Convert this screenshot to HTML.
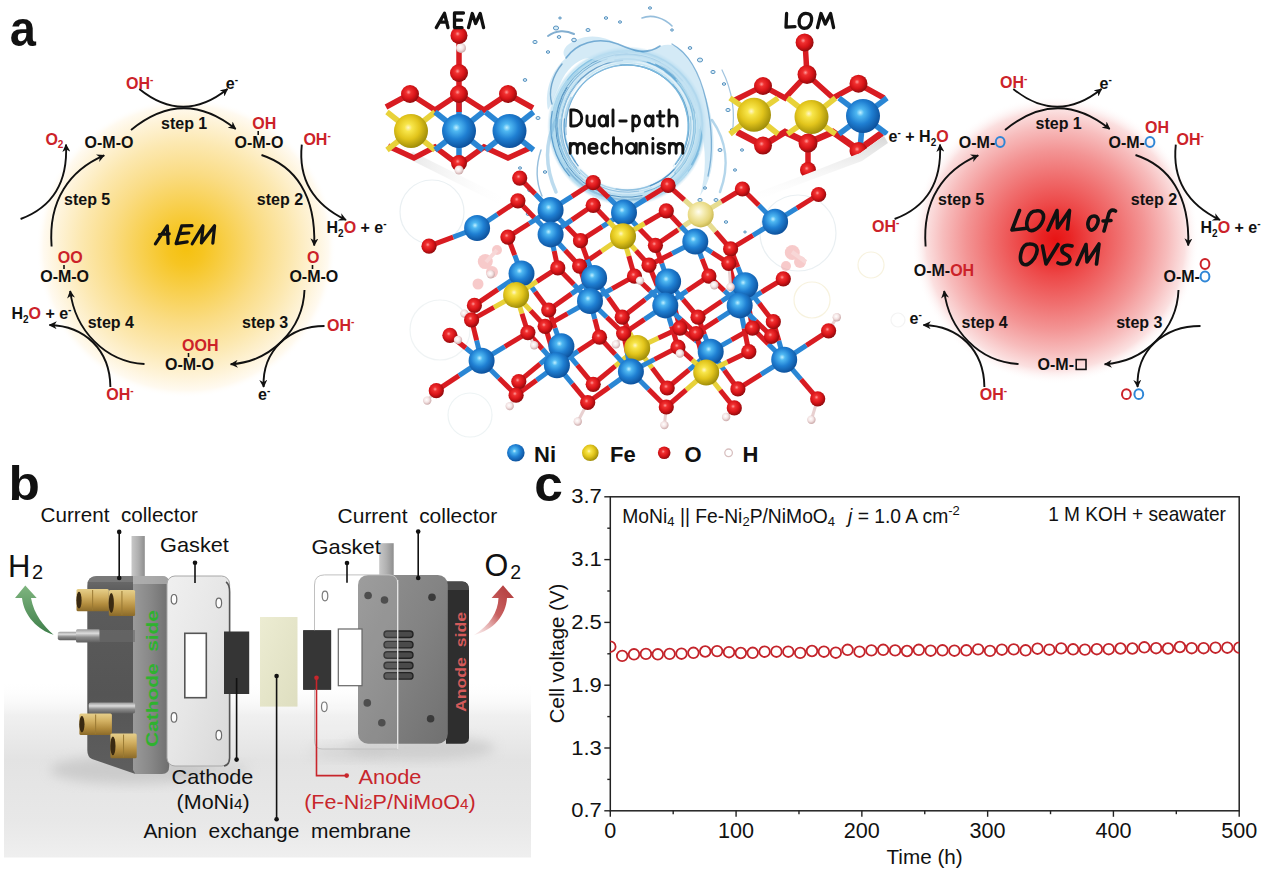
<!DOCTYPE html>
<html><head><meta charset="utf-8"><title>figure</title>
<style>
html,body{margin:0;padding:0;background:#fff;}
body{width:1268px;height:872px;overflow:hidden;}
svg{display:block;}
text{font-family:"Liberation Sans", sans-serif;white-space:pre;}
</style></head>
<body>
<svg width="1268" height="872" viewBox="0 0 1268 872">
<rect width="1268" height="872" fill="#ffffff"/>

<defs>
 <radialGradient id="gy" cx="0.5" cy="0.5" r="0.5">
  <stop offset="0" stop-color="#f5c10f"/>
  <stop offset="0.12" stop-color="#f6c522"/>
  <stop offset="0.3" stop-color="#f8d050"/>
  <stop offset="0.5" stop-color="#fadc84"/>
  <stop offset="0.7" stop-color="#fce8b0"/>
  <stop offset="0.86" stop-color="#fef3d8"/>
  <stop offset="0.95" stop-color="#fffaf0"/>
  <stop offset="1" stop-color="#ffffff" stop-opacity="0"/>
 </radialGradient>
 <radialGradient id="gr" cx="0.5" cy="0.5" r="0.5">
  <stop offset="0" stop-color="#e71414"/>
  <stop offset="0.1" stop-color="#e92424"/>
  <stop offset="0.25" stop-color="#ed4848"/>
  <stop offset="0.45" stop-color="#f07070"/>
  <stop offset="0.62" stop-color="#f39494"/>
  <stop offset="0.78" stop-color="#f7bcbc"/>
  <stop offset="0.9" stop-color="#fbe0e0"/>
  <stop offset="1" stop-color="#ffffff" stop-opacity="0"/>
 </radialGradient>
 <marker id="ah" viewBox="0 0 10 10" refX="9" refY="5" markerWidth="4.2" markerHeight="4.2" markerUnits="strokeWidth" orient="auto">
  <path d="M0,0 L10,5 L0,10 L3,5 z" fill="#111"/>
 </marker>
 <radialGradient id="ballB" cx="0.42" cy="0.40" r="0.62">
  <stop offset="0" stop-color="#bff0ff"/>
  <stop offset="0.18" stop-color="#4fb8f2"/>
  <stop offset="0.55" stop-color="#1f7fd2"/>
  <stop offset="1" stop-color="#0c4f9a"/>
 </radialGradient>
 <radialGradient id="ballY" cx="0.42" cy="0.40" r="0.62">
  <stop offset="0" stop-color="#fff6c8"/>
  <stop offset="0.18" stop-color="#f8e64a"/>
  <stop offset="0.55" stop-color="#e2c51c"/>
  <stop offset="1" stop-color="#9c8a08"/>
 </radialGradient>
 <radialGradient id="ballR" cx="0.42" cy="0.40" r="0.62">
  <stop offset="0" stop-color="#ff9a9a"/>
  <stop offset="0.22" stop-color="#f03030"/>
  <stop offset="0.6" stop-color="#d81418"/>
  <stop offset="1" stop-color="#8c0a0c"/>
 </radialGradient>
 <radialGradient id="ballH" cx="0.42" cy="0.40" r="0.62">
  <stop offset="0" stop-color="#ffffff"/>
  <stop offset="0.5" stop-color="#f4e4e4"/>
  <stop offset="1" stop-color="#c9a6a6"/>
 </radialGradient>
 <radialGradient id="bub" cx="0.5" cy="0.5" r="0.5">
  <stop offset="0.75" stop-color="#ffffff" stop-opacity="0"/>
  <stop offset="0.93" stop-color="#e6eef2" stop-opacity="0.7"/>
  <stop offset="1" stop-color="#d8e4ea" stop-opacity="0.2"/>
 </radialGradient>
 <linearGradient id="bgb" x1="0" y1="0" x2="0" y2="1">
  <stop offset="0" stop-color="#ffffff"/>
  <stop offset="0.35" stop-color="#f7f7f7"/>
  <stop offset="0.62" stop-color="#e4e4e4"/>
  <stop offset="0.85" stop-color="#ebebeb"/>
  <stop offset="1" stop-color="#f4f4f4"/>
 </linearGradient>
</defs>

<text transform="translate(9.8,45.6) scale(0.94,1)" font-size="50" font-weight="bold" fill="#111">a</text>
<text transform="translate(8.6,500.2) scale(1.07,1)" font-size="48" font-weight="bold" fill="#111">b</text>
<text transform="translate(534.3,501.2) scale(1.04,1)" font-size="49.5" font-weight="bold" fill="#111">c</text>
<circle cx="186" cy="248" r="150" fill="url(#gy)"/>
<circle cx="1055.5" cy="240" r="144" fill="url(#gr)"/>
<g transform="translate(0,0)" fill="none" stroke="#111" stroke-width="1.9" marker-end="url(#ah)">
<path d="M131,130 Q183.5,87 235.7,129.1"/>
<path d="M139.3,89 Q183,124.5 227.5,89"/>
<path d="M261.5,155 C295,166 316,195 314.2,245.5"/>
<path d="M301.8,144.6 C298,180 315,205 346,220"/>
<path d="M304.5,290 C303,330 270,362 230.6,364.2"/>
<path d="M51.6,246.5 C48,200 70,170 104.2,155.4"/>
<path d="M144.5,364 C105,362 75,330 70.2,291"/>
<path d="M110.4,387 C110,350 85,326 49.5,325"/>
<path d="M20.6,219 C50,208 68,185 66,144.6"/>
<path d="M324.5,326 C290,326 262,350 263.6,387"/>
</g>
<g transform="translate(874,0)" fill="none" stroke="#111" stroke-width="1.9" marker-end="url(#ah)">
<path d="M131,130 Q183.5,87 235.7,129.1"/>
<path d="M139.3,89 Q183,124.5 227.5,89"/>
<path d="M261.5,155 C295,166 316,195 314.2,245.5"/>
<path d="M301.8,144.6 C298,180 315,205 346,220"/>
<path d="M304.5,290 C303,330 270,362 230.6,364.2"/>
<path d="M51.6,246.5 C48,200 70,170 104.2,155.4"/>
<path d="M144.5,364 C105,362 75,330 70.2,291"/>
<path d="M110.4,387 C110,350 85,326 49.5,325"/>
<path d="M20.6,219 C50,208 68,185 66,144.6"/>
<path d="M326.5,326 C290,326 262,350 263.6,387"/>
</g>
<g font-family='"Liberation Sans", sans-serif'>
<text x="126" y="88.5" font-size="16" font-weight="bold" fill="#cc2229" text-anchor="start" >OH<tspan dy="-6" font-size="10">-</tspan></text>
<text x="225.8" y="89" font-size="16" font-weight="bold" fill="#111" text-anchor="start" >e<tspan dy="-6" font-size="10">-</tspan></text>
<text x="161" y="128.5" font-size="16" font-weight="bold" fill="#111" text-anchor="start" >step 1</text>
<text x="84.6" y="147.7" font-size="16" font-weight="bold" fill="#111" text-anchor="start" >O-M-O</text>
<text x="234.5" y="147.7" font-size="16" font-weight="bold" fill="#111" text-anchor="start" >O-M-O</text>
<text x="252.2" y="129" font-size="16" font-weight="bold" fill="#cc2229" text-anchor="start" >OH</text>
<line x1="258.2" y1="131" x2="258.2" y2="135" stroke="#111" stroke-width="1.6"/>
<text x="303.4" y="144.6" font-size="16" font-weight="bold" fill="#cc2229" text-anchor="start" >OH<tspan dy="-6" font-size="10">-</tspan></text>
<text x="45.4" y="144.6" font-size="16" font-weight="bold" fill="#cc2229">O<tspan dy="3" font-size="10">2</tspan></text>
<text x="64" y="205" font-size="16" font-weight="bold" fill="#111" text-anchor="start" >step 5</text>
<text x="256.8" y="205" font-size="16" font-weight="bold" fill="#111" text-anchor="start" >step 2</text>
<text x="326.5" y="233.4" font-size="16" font-weight="bold" fill="#111">H<tspan dy="4" font-size="10">2</tspan><tspan dy="-4" fill="#cc2229">O</tspan> + e<tspan dy="-6" font-size="10">-</tspan></text>
<text x="57.8" y="263" font-size="16" font-weight="bold" fill="#cc2229" text-anchor="start" >OO</text>
<line x1="64" y1="265" x2="64" y2="269" stroke="#111" stroke-width="1.6"/>
<text x="40.2" y="281.6" font-size="16" font-weight="bold" fill="#111" text-anchor="start" >O-M-O</text>
<text x="307" y="263" font-size="16" font-weight="bold" fill="#cc2229" text-anchor="start" >O</text>
<line x1="312.5" y1="265" x2="312.5" y2="269" stroke="#111" stroke-width="1.6"/>
<text x="289.4" y="281.6" font-size="16" font-weight="bold" fill="#111" text-anchor="start" >O-M-O</text>
<text x="11.4" y="318.7" font-size="16" font-weight="bold" fill="#111">H<tspan dy="4" font-size="10">2</tspan><tspan dy="-4" fill="#cc2229">O</tspan> + e<tspan dy="-6" font-size="10">-</tspan></text>
<text x="87.7" y="327.5" font-size="16" font-weight="bold" fill="#111" text-anchor="start" >step 4</text>
<text x="242" y="327.5" font-size="16" font-weight="bold" fill="#111" text-anchor="start" >step 3</text>
<text x="327" y="330.5" font-size="16" font-weight="bold" fill="#cc2229" text-anchor="start" >OH<tspan dy="-6" font-size="10">-</tspan></text>
<text x="182" y="350.7" font-size="16" font-weight="bold" fill="#cc2229" text-anchor="start" >OOH</text>
<line x1="188.5" y1="353" x2="188.5" y2="357" stroke="#111" stroke-width="1.6"/>
<text x="165" y="370.3" font-size="16" font-weight="bold" fill="#111" text-anchor="start" >O-M-O</text>
<text x="106.3" y="400.3" font-size="16" font-weight="bold" fill="#cc2229" text-anchor="start" >OH<tspan dy="-6" font-size="10">-</tspan></text>
<text x="258" y="400.3" font-size="16" font-weight="bold" fill="#111" text-anchor="start" >e<tspan dy="-6" font-size="10">-</tspan></text>
<text x="1000" y="88" font-size="16" font-weight="bold" fill="#cc2229" text-anchor="start" >OH<tspan dy="-6" font-size="10">-</tspan></text>
<text x="1099.5" y="88.5" font-size="16" font-weight="bold" fill="#111" text-anchor="start" >e<tspan dy="-6" font-size="10">-</tspan></text>
<text x="1035.5" y="128.5" font-size="16" font-weight="bold" fill="#111" text-anchor="start" >step 1</text>
<text x="888.6" y="141.5" font-size="16" font-weight="bold" fill="#111">e<tspan dy="-6" font-size="10">-</tspan><tspan dy="6"> + H</tspan><tspan dy="4" font-size="10">2</tspan><tspan dy="-4" fill="#cc2229">O</tspan></text>
<text x="958.8" y="147.7" font-size="16" font-weight="bold" fill="#111" text-anchor="start" >O-M-</text>
<ellipse cx="1000.2" cy="142" rx="4.4" ry="4.9" fill="none" stroke="#2f86d6" stroke-width="2"/>
<text x="1108.5" y="147.7" font-size="16" font-weight="bold" fill="#111" text-anchor="start" >O-M-</text>
<ellipse cx="1150" cy="142" rx="4.4" ry="4.9" fill="none" stroke="#2f86d6" stroke-width="2"/>
<text x="1145" y="133" font-size="16" font-weight="bold" fill="#cc2229" text-anchor="start" >OH</text>
<text x="1176.5" y="144.6" font-size="16" font-weight="bold" fill="#cc2229" text-anchor="start" >OH<tspan dy="-6" font-size="10">-</tspan></text>
<text x="938" y="205" font-size="16" font-weight="bold" fill="#111" text-anchor="start" >step 5</text>
<text x="1130.8" y="205" font-size="16" font-weight="bold" fill="#111" text-anchor="start" >step 2</text>
<text x="872" y="232.3" font-size="16" font-weight="bold" fill="#cc2229" text-anchor="start" >OH<tspan dy="-6" font-size="10">-</tspan></text>
<text x="1200.5" y="233.4" font-size="16" font-weight="bold" fill="#111">H<tspan dy="4" font-size="10">2</tspan><tspan dy="-4" fill="#cc2229">O</tspan> + e<tspan dy="-6" font-size="10">-</tspan></text>
<ellipse cx="1205" cy="264" rx="4.4" ry="4.9" fill="none" stroke="#cc2229" stroke-width="2"/>
<text x="1163.5" y="281.6" font-size="16" font-weight="bold" fill="#111" text-anchor="start" >O-M-</text>
<ellipse cx="1205" cy="276.5" rx="4.4" ry="4.9" fill="none" stroke="#2f86d6" stroke-width="2"/>
<text x="913.7" y="276" font-size="16" font-weight="bold" fill="#111">O-M-<tspan fill="#cc2229">OH</tspan></text>
<text x="909.5" y="324" font-size="16" font-weight="bold" fill="#111" text-anchor="start" >e<tspan dy="-6" font-size="10">-</tspan></text>
<text x="961.5" y="327.5" font-size="16" font-weight="bold" fill="#111" text-anchor="start" >step 4</text>
<text x="1116.2" y="327.5" font-size="16" font-weight="bold" fill="#111" text-anchor="start" >step 3</text>
<text x="1037.6" y="370.3" font-size="16" font-weight="bold" fill="#111">O-M-</text>
<rect x="1076.2" y="359.6" width="9.8" height="9.8" fill="none" stroke="#111" stroke-width="1.6"/>
<text x="979.8" y="400.3" font-size="16" font-weight="bold" fill="#cc2229" text-anchor="start" >OH<tspan dy="-6" font-size="10">-</tspan></text>
<ellipse cx="1126.4" cy="394.2" rx="4.4" ry="4.9" fill="none" stroke="#cc2229" stroke-width="2"/><ellipse cx="1138.8" cy="394.2" rx="4.4" ry="4.9" fill="none" stroke="#2f86d6" stroke-width="2"/>
</g>
<path d="M155.4,243.8 L167.3,225.9 L168.1,243.5 M159.3,234.5 L169.2,233.8 M181.7,225.9 L176.1,243.6 M181.7,225.9 L192.0,225.7 M179.3,233.7 L188.8,233.0 M176.1,243.6 L187.2,241.8 M192.2,243.8 L203,225.8 L201.4,243 L214.6,225.8 L212.8,243.2" fill="none" stroke="#111" stroke-width="3.2" stroke-linecap="round" stroke-linejoin="round"/>
<path d="M1019.5,210.5 L1012,230 L1025,228.5 M1036,211 C1028,211 1025,224 1028,229 C1031,233 1040,229 1043,220 C1045,213 1041,210 1036,211 Z M1048,230 L1057,210.5 L1057.5,228 L1069.5,210.5 L1067.5,229 M1094,216 C1088,216 1086,226 1090,229.5 C1094,232 1099,224 1098,219 C1097,216 1095,216 1094,216 Z M1104,231 L1109,213 C1111,209 1114,210 1115.5,211 M1103,221 L1111,220.5" fill="none" stroke="#111" stroke-width="3.6" stroke-linecap="round" stroke-linejoin="round"/>
<path d="M1029,244 C1021,244 1018,260 1023,264 C1028,267 1036,259 1037,251 C1038,246 1034,243.5 1029,244 Z M1042.5,246 L1046,264 L1058,244.5 M1072,246 C1066,244 1061,246 1062,251 C1063,255 1070,254 1070,259 C1070,264 1062,265 1058,263 M1077,264.5 L1086,244.5 L1087,262 L1099,244 L1096.5,264" fill="none" stroke="#111" stroke-width="3.6" stroke-linecap="round" stroke-linejoin="round"/>
<g font-family='"Liberation Sans", sans-serif' fill="#111">
<rect x="610.3" y="496.8" width="628.9000000000001" height="313.99999999999994" fill="none" stroke="#222" stroke-width="1.5"/>
<line x1="604.3" y1="810.8" x2="610.3" y2="810.8" stroke="#222" stroke-width="1.4"/>
<text x="601.8" y="817.4" font-size="19.6" text-anchor="end" textLength="30.6" lengthAdjust="spacingAndGlyphs">0.7</text>
<line x1="604.3" y1="748.0" x2="610.3" y2="748.0" stroke="#222" stroke-width="1.4"/>
<text x="601.8" y="754.6" font-size="19.6" text-anchor="end" textLength="30.6" lengthAdjust="spacingAndGlyphs">1.3</text>
<line x1="604.3" y1="685.2" x2="610.3" y2="685.2" stroke="#222" stroke-width="1.4"/>
<text x="601.8" y="691.8000000000001" font-size="19.6" text-anchor="end" textLength="30.6" lengthAdjust="spacingAndGlyphs">1.9</text>
<line x1="604.3" y1="622.4" x2="610.3" y2="622.4" stroke="#222" stroke-width="1.4"/>
<text x="601.8" y="629.0" font-size="19.6" text-anchor="end" textLength="30.6" lengthAdjust="spacingAndGlyphs">2.5</text>
<line x1="604.3" y1="559.5999999999999" x2="610.3" y2="559.5999999999999" stroke="#222" stroke-width="1.4"/>
<text x="601.8" y="566.1999999999999" font-size="19.6" text-anchor="end" textLength="30.6" lengthAdjust="spacingAndGlyphs">3.1</text>
<line x1="604.3" y1="496.8" x2="610.3" y2="496.8" stroke="#222" stroke-width="1.4"/>
<text x="601.8" y="503.40000000000003" font-size="19.6" text-anchor="end" textLength="30.6" lengthAdjust="spacingAndGlyphs">3.7</text>
<line x1="607.3" y1="779.4" x2="610.3" y2="779.4" stroke="#222" stroke-width="1.4"/>
<line x1="607.3" y1="716.5999999999999" x2="610.3" y2="716.5999999999999" stroke="#222" stroke-width="1.4"/>
<line x1="607.3" y1="653.8" x2="610.3" y2="653.8" stroke="#222" stroke-width="1.4"/>
<line x1="607.3" y1="591.0" x2="610.3" y2="591.0" stroke="#222" stroke-width="1.4"/>
<line x1="607.3" y1="528.2" x2="610.3" y2="528.2" stroke="#222" stroke-width="1.4"/>
<line x1="610.3" y1="810.8" x2="610.3" y2="816.8" stroke="#222" stroke-width="1.4"/>
<text x="610.3" y="838.0" font-size="21.5" text-anchor="middle" textLength="12" lengthAdjust="spacingAndGlyphs">0</text>
<line x1="736.0799999999999" y1="810.8" x2="736.0799999999999" y2="816.8" stroke="#222" stroke-width="1.4"/>
<text x="736.0799999999999" y="838.0" font-size="21.5" text-anchor="middle" textLength="36" lengthAdjust="spacingAndGlyphs">100</text>
<line x1="861.86" y1="810.8" x2="861.86" y2="816.8" stroke="#222" stroke-width="1.4"/>
<text x="861.86" y="838.0" font-size="21.5" text-anchor="middle" textLength="36" lengthAdjust="spacingAndGlyphs">200</text>
<line x1="987.64" y1="810.8" x2="987.64" y2="816.8" stroke="#222" stroke-width="1.4"/>
<text x="987.64" y="838.0" font-size="21.5" text-anchor="middle" textLength="36" lengthAdjust="spacingAndGlyphs">300</text>
<line x1="1113.42" y1="810.8" x2="1113.42" y2="816.8" stroke="#222" stroke-width="1.4"/>
<text x="1113.42" y="838.0" font-size="21.5" text-anchor="middle" textLength="36" lengthAdjust="spacingAndGlyphs">400</text>
<line x1="1239.2" y1="810.8" x2="1239.2" y2="816.8" stroke="#222" stroke-width="1.4"/>
<text x="1239.2" y="838.0" font-size="21.5" text-anchor="middle" textLength="36" lengthAdjust="spacingAndGlyphs">500</text>
<line x1="673.1899999999999" y1="810.8" x2="673.1899999999999" y2="814.1999999999999" stroke="#222" stroke-width="1.4"/>
<line x1="798.97" y1="810.8" x2="798.97" y2="814.1999999999999" stroke="#222" stroke-width="1.4"/>
<line x1="924.75" y1="810.8" x2="924.75" y2="814.1999999999999" stroke="#222" stroke-width="1.4"/>
<line x1="1050.53" y1="810.8" x2="1050.53" y2="814.1999999999999" stroke="#222" stroke-width="1.4"/>
<line x1="1176.31" y1="810.8" x2="1176.31" y2="814.1999999999999" stroke="#222" stroke-width="1.4"/>
<text x="886.5" y="863.5" font-size="20.6" textLength="76.2" lengthAdjust="spacingAndGlyphs">Time (h)</text>
<text transform="translate(564.2,723.2) rotate(-90)" font-size="20.4" textLength="139.5" lengthAdjust="spacingAndGlyphs">Cell voltage (V)</text>
<text x="1048.2" y="520.8" font-size="19.8" textLength="177.8" lengthAdjust="spacingAndGlyphs">1 M KOH + seawater</text>
<text x="622.3" y="523.4" font-size="19.3">MoNi<tspan dy="3" font-size="13">4</tspan><tspan dy="-3"> || Fe-Ni</tspan><tspan dy="3" font-size="13">2</tspan><tspan dy="-3">P/NiMoO</tspan><tspan dy="3" font-size="13">4</tspan><tspan dy="-3" x="848" font-style="italic">j</tspan><tspan> = 1.0 A cm</tspan><tspan dy="-8" font-size="13">-2</tspan></text>
</g>
<clipPath id="cc"><rect x="610.3" y="496.8" width="628.9000000000001" height="313.99999999999994"/></clipPath>
<g clip-path="url(#cc)" fill="none" stroke="#c4242b" stroke-width="1.8">
<circle cx="610.3" cy="646.7" r="5.3"/>
<circle cx="622.2" cy="655.9" r="5.3"/>
<circle cx="634.0" cy="654.3" r="5.3"/>
<circle cx="645.9" cy="653.9" r="5.3"/>
<circle cx="657.8" cy="654.3" r="5.3"/>
<circle cx="669.6" cy="653.9" r="5.3"/>
<circle cx="681.5" cy="653.7" r="5.3"/>
<circle cx="693.4" cy="652.8" r="5.3"/>
<circle cx="705.2" cy="651.5" r="5.3"/>
<circle cx="717.1" cy="651.1" r="5.3"/>
<circle cx="729.0" cy="652.2" r="5.3"/>
<circle cx="740.8" cy="653.0" r="5.3"/>
<circle cx="752.7" cy="652.8" r="5.3"/>
<circle cx="764.6" cy="651.7" r="5.3"/>
<circle cx="776.4" cy="651.7" r="5.3"/>
<circle cx="788.3" cy="651.7" r="5.3"/>
<circle cx="800.2" cy="652.9" r="5.3"/>
<circle cx="812.0" cy="651.0" r="5.3"/>
<circle cx="823.9" cy="651.7" r="5.3"/>
<circle cx="835.8" cy="652.7" r="5.3"/>
<circle cx="847.6" cy="649.8" r="5.3"/>
<circle cx="859.5" cy="651.7" r="5.3"/>
<circle cx="871.4" cy="650.4" r="5.3"/>
<circle cx="883.2" cy="649.8" r="5.3"/>
<circle cx="895.1" cy="650.4" r="5.3"/>
<circle cx="907.0" cy="651.0" r="5.3"/>
<circle cx="918.8" cy="649.8" r="5.3"/>
<circle cx="930.7" cy="650.7" r="5.3"/>
<circle cx="942.5" cy="650.3" r="5.3"/>
<circle cx="954.4" cy="650.7" r="5.3"/>
<circle cx="966.3" cy="650.3" r="5.3"/>
<circle cx="978.1" cy="649.4" r="5.3"/>
<circle cx="990.0" cy="650.9" r="5.3"/>
<circle cx="1001.9" cy="649.7" r="5.3"/>
<circle cx="1013.7" cy="649.4" r="5.3"/>
<circle cx="1025.6" cy="650.3" r="5.3"/>
<circle cx="1037.5" cy="648.7" r="5.3"/>
<circle cx="1049.3" cy="649.7" r="5.3"/>
<circle cx="1061.2" cy="648.4" r="5.3"/>
<circle cx="1073.1" cy="649.3" r="5.3"/>
<circle cx="1084.9" cy="649.6" r="5.3"/>
<circle cx="1096.8" cy="649.2" r="5.3"/>
<circle cx="1108.7" cy="649.2" r="5.3"/>
<circle cx="1120.5" cy="648.5" r="5.3"/>
<circle cx="1132.4" cy="648.5" r="5.3"/>
<circle cx="1144.3" cy="647.3" r="5.3"/>
<circle cx="1156.1" cy="648.2" r="5.3"/>
<circle cx="1168.0" cy="648.5" r="5.3"/>
<circle cx="1179.9" cy="647.0" r="5.3"/>
<circle cx="1191.7" cy="648.2" r="5.3"/>
<circle cx="1203.6" cy="648.2" r="5.3"/>
<circle cx="1215.5" cy="647.7" r="5.3"/>
<circle cx="1227.3" cy="647.7" r="5.3"/>
<circle cx="1239.2" cy="647.7" r="5.3"/>
</g>
<defs><radialGradient id="ringg" cx="0.5" cy="0.5" r="0.5"><stop offset="0.76" stop-color="#ffffff" stop-opacity="0"/><stop offset="0.80" stop-color="#e2f1f9" stop-opacity="0.9"/><stop offset="0.88" stop-color="#bfe0f1" stop-opacity="0.95"/><stop offset="0.95" stop-color="#9dcfea" stop-opacity="0.9"/><stop offset="1" stop-color="#cfe7f4" stop-opacity="0"/></radialGradient></defs>
<circle cx="627" cy="126" r="80" fill="url(#ringg)"/>
<g fill="none" stroke-linecap="round">
<path d="M655.5,64.0 A68.2,68.2 0 0 1 644.4,192.0" stroke="#5ea6d4" stroke-width="1.1" opacity="0.78"/>
<path d="M688.8,142.9 A64.0,64.0 0 0 1 616.1,189.1" stroke="#3f88c0" stroke-width="1.5" opacity="0.40"/>
<path d="M576.6,168.4 A65.9,65.9 0 0 1 622.6,60.3" stroke="#2f78b0" stroke-width="1.3" opacity="0.65"/>
<path d="M614.7,59.8 A67.3,67.3 0 0 1 691.4,145.5" stroke="#2f78b0" stroke-width="0.7" opacity="0.36"/>
<path d="M582.7,179.5 A69.5,69.5 0 0 1 557.6,127.9" stroke="#7fbde0" stroke-width="1.3" opacity="0.74"/>
<path d="M665.0,71.8 A66.2,66.2 0 0 1 692.9,119.6" stroke="#7fbde0" stroke-width="1.3" opacity="0.60"/>
<path d="M615.7,55.3 A71.6,71.6 0 0 1 682.4,80.6" stroke="#3f88c0" stroke-width="1.8" opacity="0.77"/>
<path d="M567.1,85.5 A72.3,72.3 0 0 1 624.2,53.7" stroke="#b9dff0" stroke-width="0.5" opacity="0.63"/>
<path d="M575.3,161.5 A62.7,62.7 0 0 1 571.1,97.6" stroke="#9fd0ea" stroke-width="1.7" opacity="0.77"/>
<path d="M566.0,126.8 A61.0,61.0 0 0 1 672.3,85.2" stroke="#5ea6d4" stroke-width="1.0" opacity="0.70"/>
<path d="M657.6,65.6 A67.7,67.7 0 0 1 692.9,110.4" stroke="#2f78b0" stroke-width="0.9" opacity="0.39"/>
<path d="M651.7,187.6 A66.3,66.3 0 0 1 561.3,116.9" stroke="#9fd0ea" stroke-width="0.7" opacity="0.70"/>
<path d="M620.0,65.2 A61.2,61.2 0 0 1 687.1,114.6" stroke="#2f78b0" stroke-width="1.2" opacity="0.57"/>
<path d="M690.4,116.6 A64.1,64.1 0 0 1 680.8,160.8" stroke="#2f78b0" stroke-width="1.0" opacity="0.55"/>
<path d="M600.5,198.1 A76.8,76.8 0 0 1 592.4,57.4" stroke="#cde9f5" stroke-width="1.3" opacity="0.85"/>
<path d="M566.3,134.7 A61.3,61.3 0 0 1 674.8,87.7" stroke="#3f88c0" stroke-width="1.3" opacity="0.40"/>
<path d="M550.2,125.5 A76.8,76.8 0 0 1 585.9,61.1" stroke="#cde9f5" stroke-width="1.3" opacity="0.77"/>
<path d="M579.9,173.9 A67.2,67.2 0 0 1 560.1,119.4" stroke="#2f78b0" stroke-width="0.8" opacity="0.65"/>
<path d="M614.9,60.2 A66.9,66.9 0 0 1 674.8,172.9" stroke="#5ea6d4" stroke-width="1.6" opacity="0.42"/>
<path d="M676.1,80.2 A67.2,67.2 0 0 1 689.8,149.9" stroke="#7fbde0" stroke-width="1.6" opacity="0.47"/>
<path d="M690.7,119.3 A64.0,64.0 0 0 1 580.5,170.0" stroke="#7fbde0" stroke-width="1.4" opacity="0.54"/>
<path d="M577.6,173.8 A68.7,68.7 0 0 1 560.1,141.7" stroke="#9fd0ea" stroke-width="0.6" opacity="0.83"/>
<path d="M688.8,106.5 A64.8,64.8 0 0 1 676.9,167.3" stroke="#cde9f5" stroke-width="1.7" opacity="0.60"/>
<path d="M665.1,183.9 A69.3,69.3 0 0 1 563.6,98.0" stroke="#7fbde0" stroke-width="0.8" opacity="0.63"/>
<path d="M677.6,71.2 A74.6,74.6 0 0 1 699.8,142.5" stroke="#7fbde0" stroke-width="1.5" opacity="0.38"/>
<path d="M560.9,111.7 A67.6,67.6 0 0 1 577.6,79.9" stroke="#b9dff0" stroke-width="1.0" opacity="0.64"/>
<path d="M586.0,78.0 A63.1,63.1 0 0 1 689.8,132.5" stroke="#b9dff0" stroke-width="1.4" opacity="0.70"/>
<path d="M562.6,154.3 A70.4,70.4 0 0 1 557.0,119.0" stroke="#9fd0ea" stroke-width="1.1" opacity="0.53"/>
<path d="M592.9,182.5 A66.0,66.0 0 0 1 577.1,82.8" stroke="#9fd0ea" stroke-width="1.1" opacity="0.72"/>
<path d="M638.7,191.1 A66.1,66.1 0 0 1 599.9,186.3" stroke="#3f88c0" stroke-width="1.0" opacity="0.37"/>
<path d="M702.5,117.1 A76.0,76.0 0 0 1 689.7,169.0" stroke="#b9dff0" stroke-width="1.0" opacity="0.69"/>
<path d="M686.9,171.9 A75.4,75.4 0 0 1 595.6,194.6" stroke="#cde9f5" stroke-width="0.5" opacity="0.60"/>
<path d="M679.2,94.0 A61.2,61.2 0 0 1 673.3,166.1" stroke="#9fd0ea" stroke-width="1.3" opacity="0.39"/>
<path d="M642.1,195.6 A71.2,71.2 0 0 1 567.1,87.4" stroke="#2f78b0" stroke-width="0.9" opacity="0.82"/>
<path d="M615.8,54.8 A72.1,72.1 0 0 1 696.3,106.0" stroke="#3f88c0" stroke-width="0.6" opacity="0.73"/>
<path d="M665.2,77.8 A61.5,61.5 0 0 1 678.2,160.0" stroke="#7fbde0" stroke-width="1.7" opacity="0.41"/>
<path d="M689.2,86.9 A73.5,73.5 0 0 1 670.6,185.2" stroke="#9fd0ea" stroke-width="1.0" opacity="0.42"/>
<path d="M640.6,56.5 A70.8,70.8 0 0 1 681.0,171.8" stroke="#b9dff0" stroke-width="1.4" opacity="0.57"/>
<path d="M567.6,79.8 A75.3,75.3 0 0 1 689.5,84.1" stroke="#7fbde0" stroke-width="1.3" opacity="0.75"/>
<path d="M554.1,131.0 A73.1,73.1 0 0 1 578.0,71.8" stroke="#7fbde0" stroke-width="1.3" opacity="0.51"/>
<path d="M631.2,63.0 A63.2,63.2 0 0 1 672.9,169.5" stroke="#cde9f5" stroke-width="0.6" opacity="0.38"/>
<path d="M698.5,153.7 A76.7,76.7 0 0 1 665.0,192.6" stroke="#5ea6d4" stroke-width="0.9" opacity="0.46"/>
<path d="M676.0,79.4 A67.6,67.6 0 0 1 676.3,172.3" stroke="#b9dff0" stroke-width="1.4" opacity="0.77"/>
<path d="M569.4,84.6 A71.0,71.0 0 0 1 695.3,106.8" stroke="#b9dff0" stroke-width="1.6" opacity="0.37"/>
<path d="M661.3,62.3 A72.3,72.3 0 0 1 699.3,128.4" stroke="#cde9f5" stroke-width="1.2" opacity="0.67"/>
<path d="M560.1,134.6 A67.5,67.5 0 0 1 654.3,64.3" stroke="#b9dff0" stroke-width="0.8" opacity="0.42"/>
<path d="M672.6,84.4 A61.8,61.8 0 0 1 675.4,164.4" stroke="#2f78b0" stroke-width="1.2" opacity="0.67"/>
<path d="M579.1,172.7 A66.9,66.9 0 0 1 560.4,119.6" stroke="#cde9f5" stroke-width="1.1" opacity="0.44"/>
<path d="M622.5,65.0 A61.2,61.2 0 0 1 684.4,147.0" stroke="#7fbde0" stroke-width="0.8" opacity="0.74"/>
<path d="M659.2,187.7 A69.6,69.6 0 0 1 566.7,160.8" stroke="#cde9f5" stroke-width="0.7" opacity="0.77"/>
<path d="M555.0,121.1 A72.2,72.2 0 0 1 614.7,54.9" stroke="#2f78b0" stroke-width="1.0" opacity="0.58"/>
<path d="M674.1,169.6 A64.2,64.2 0 0 1 650.3,185.8" stroke="#3f88c0" stroke-width="1.2" opacity="0.79"/>
<path d="M662.1,190.9 A73.7,73.7 0 0 1 566.9,168.8" stroke="#2f78b0" stroke-width="1.8" opacity="0.40"/>
<path d="M699.8,143.4 A74.9,74.9 0 0 1 559.7,158.9" stroke="#9fd0ea" stroke-width="0.8" opacity="0.80"/>
<path d="M650.0,199.1 A76.7,76.7 0 0 1 553.0,146.3" stroke="#cde9f5" stroke-width="1.7" opacity="0.48"/>
<path d="M596.2,191.6 A72.5,72.5 0 0 1 560.4,97.4" stroke="#9fd0ea" stroke-width="1.1" opacity="0.63"/>
<path d="M628.1,52.7 A73.3,73.3 0 0 1 663.0,62.2" stroke="#cde9f5" stroke-width="1.6" opacity="0.56"/>
<path d="M643.9,66.8 A61.6,61.6 0 0 1 676.3,162.8" stroke="#7fbde0" stroke-width="1.1" opacity="0.85"/>
<path d="M641.4,52.0 A75.4,75.4 0 0 1 691.8,164.6" stroke="#5ea6d4" stroke-width="1.7" opacity="0.60"/>
<path d="M570.0,176.6 A76.2,76.2 0 0 1 552.2,111.4" stroke="#3f88c0" stroke-width="1.2" opacity="0.77"/>
<path d="M559.6,145.0 A70.0,70.0 0 0 1 607.1,58.9" stroke="#3f88c0" stroke-width="0.8" opacity="0.69"/>
<path d="M687.8,172.0 A76.3,76.3 0 0 1 570.0,176.7" stroke="#b9dff0" stroke-width="1.6" opacity="0.83"/>
<path d="M660.7,65.4 A69.4,69.4 0 0 1 695.2,113.0" stroke="#3f88c0" stroke-width="0.6" opacity="0.35"/>
<path d="M647.3,62.1 A67.0,67.0 0 0 1 676.9,81.3" stroke="#5ea6d4" stroke-width="1.2" opacity="0.84"/>
<path d="M578.2,165.8 A63.0,63.0 0 0 1 564.5,118.8" stroke="#3f88c0" stroke-width="1.1" opacity="0.81"/>
<path d="M593.9,60.0 A73.8,73.8 0 0 1 663.0,61.5" stroke="#5ea6d4" stroke-width="0.7" opacity="0.57"/>
<path d="M677.3,180.3 A74.1,74.1 0 0 1 577.7,181.2" stroke="#b9dff0" stroke-width="0.6" opacity="0.56"/>
<path d="M567.9,109.2 A61.5,61.5 0 0 1 665.4,78.0" stroke="#9fd0ea" stroke-width="0.5" opacity="0.43"/>
<path d="M571.0,101.4 A61.2,61.2 0 0 1 673.3,86.0" stroke="#7fbde0" stroke-width="1.3" opacity="0.40"/>
<path d="M563.7,161.8 A72.7,72.7 0 0 1 589.9,63.5" stroke="#b9dff0" stroke-width="1.4" opacity="0.70"/>
</g>
<path d="M548,110 C544,90 552,70 566,58 C560,52 566,44 576,40 C590,34 604,36 618,44 C632,50 642,56 652,50 C662,44 672,42 682,50 C692,60 698,74 704,92 C712,112 716,140 712,165 C710,180 704,190 700,196 C706,175 707,150 700,125 C694,104 684,86 672,72 C660,62 646,60 632,62 C616,64 600,62 588,58 C576,60 566,70 560,84 C555,94 552,104 548,110 Z" fill="#c6e3f3" opacity="0.75"/>
<g fill="none" stroke-linecap="round">
<path d="M566,58 C576,44 596,36 618,44 C632,50 645,56 660,46" stroke="#3f88c0" stroke-width="1.6" opacity="0.65"/>
<path d="M672,44 C690,54 700,74 706,100 C712,126 714,150 708,176" stroke="#3f88c0" stroke-width="1.3" opacity="0.6"/>
<path d="M552,104 C548,92 552,76 562,64" stroke="#2f78b0" stroke-width="1.4" opacity="0.6"/>
<path d="M556,120 C546,140 544,165 556,192" stroke="#7ab8de" stroke-width="3.5" opacity="0.5"/>
<path d="M541,150 C536,165 536,182 542,196" stroke="#3f88c0" stroke-width="1.4" opacity="0.55"/>
<path d="M712,120 C726,140 730,165 720,192" stroke="#6aaed8" stroke-width="2.5" opacity="0.5"/>
<path d="M722,70 C732,90 736,110 732,135" stroke="#3f88c0" stroke-width="1.2" opacity="0.5"/>
<path d="M548,36 C556,30 566,30 574,34" stroke="#2f78b0" stroke-width="2" opacity="0.6"/>
<path d="M642,18 C652,14 664,18 672,26" stroke="#3f88c0" stroke-width="1.6" opacity="0.55"/>
</g>
<ellipse cx="556" cy="28" rx="2.6" ry="2.0" fill="#cfe8f5" stroke="#2f78b0" stroke-width="1" opacity="0.8"/>
<ellipse cx="574" cy="40" rx="2.3" ry="1.8" fill="#cfe8f5" stroke="#2f78b0" stroke-width="1" opacity="0.8"/>
<ellipse cx="588" cy="30" rx="2.0" ry="1.5" fill="#cfe8f5" stroke="#2f78b0" stroke-width="1" opacity="0.8"/>
<ellipse cx="559" cy="37" rx="1.8" ry="1.4" fill="#cfe8f5" stroke="#2f78b0" stroke-width="1" opacity="0.8"/>
<ellipse cx="535" cy="42" rx="2.1" ry="1.6" fill="#cfe8f5" stroke="#2f78b0" stroke-width="1" opacity="0.8"/>
<ellipse cx="548" cy="52" rx="1.7" ry="1.3" fill="#cfe8f5" stroke="#2f78b0" stroke-width="1" opacity="0.8"/>
<ellipse cx="620" cy="22" rx="1.6" ry="1.2" fill="#cfe8f5" stroke="#2f78b0" stroke-width="1" opacity="0.8"/>
<ellipse cx="606" cy="18" rx="1.7" ry="1.3" fill="#cfe8f5" stroke="#2f78b0" stroke-width="1" opacity="0.8"/>
<ellipse cx="700" cy="60" rx="2.6" ry="2.0" fill="#cfe8f5" stroke="#2f78b0" stroke-width="1" opacity="0.8"/>
<ellipse cx="713" cy="72" rx="2.1" ry="1.6" fill="#cfe8f5" stroke="#2f78b0" stroke-width="1" opacity="0.8"/>
<ellipse cx="724" cy="84" rx="1.7" ry="1.3" fill="#cfe8f5" stroke="#2f78b0" stroke-width="1" opacity="0.8"/>
<ellipse cx="690" cy="48" rx="1.8" ry="1.4" fill="#cfe8f5" stroke="#2f78b0" stroke-width="1" opacity="0.8"/>
<ellipse cx="541" cy="205" rx="2.1" ry="1.6" fill="#cfe8f5" stroke="#2f78b0" stroke-width="1" opacity="0.8"/>
<ellipse cx="530" cy="190" rx="2.3" ry="1.8" fill="#cfe8f5" stroke="#2f78b0" stroke-width="1" opacity="0.8"/>
<ellipse cx="700" cy="200" rx="2.1" ry="1.6" fill="#cfe8f5" stroke="#2f78b0" stroke-width="1" opacity="0.8"/>
<ellipse cx="705" cy="188" rx="1.6" ry="1.2" fill="#cfe8f5" stroke="#2f78b0" stroke-width="1" opacity="0.8"/>
<ellipse cx="720" cy="150" rx="2.0" ry="1.5" fill="#cfe8f5" stroke="#2f78b0" stroke-width="1" opacity="0.8"/>
<ellipse cx="735" cy="170" rx="1.6" ry="1.2" fill="#cfe8f5" stroke="#2f78b0" stroke-width="1" opacity="0.8"/>
<ellipse cx="525" cy="80" rx="1.8" ry="1.4" fill="#cfe8f5" stroke="#2f78b0" stroke-width="1" opacity="0.8"/>
<ellipse cx="672" cy="30" rx="1.4" ry="1.1" fill="#cfe8f5" stroke="#2f78b0" stroke-width="1" opacity="0.8"/>
<ellipse cx="728" cy="110" rx="2.1" ry="1.6" fill="#cfe8f5" stroke="#2f78b0" stroke-width="1" opacity="0.8"/>
<ellipse cx="732" cy="130" rx="1.7" ry="1.3" fill="#cfe8f5" stroke="#2f78b0" stroke-width="1" opacity="0.8"/>
<ellipse cx="716" cy="200" rx="2.0" ry="1.5" fill="#cfe8f5" stroke="#2f78b0" stroke-width="1" opacity="0.8"/>
<ellipse cx="690" cy="205" rx="1.6" ry="1.2" fill="#cfe8f5" stroke="#2f78b0" stroke-width="1" opacity="0.8"/>
<ellipse cx="545" cy="172" rx="1.7" ry="1.3" fill="#cfe8f5" stroke="#2f78b0" stroke-width="1" opacity="0.8"/>
<ellipse cx="538" cy="118" rx="2.0" ry="1.5" fill="#cfe8f5" stroke="#2f78b0" stroke-width="1" opacity="0.8"/>
<ellipse cx="650" cy="8" rx="1.6" ry="1.2" fill="#cfe8f5" stroke="#2f78b0" stroke-width="1" opacity="0.8"/>
<ellipse cx="560" cy="18" rx="1.3" ry="1.0" fill="#cfe8f5" stroke="#2f78b0" stroke-width="1" opacity="0.8"/>
<ellipse cx="742" cy="150" rx="1.6" ry="1.2" fill="#cfe8f5" stroke="#2f78b0" stroke-width="1" opacity="0.8"/>
<ellipse cx="738" cy="190" rx="1.8" ry="1.4" fill="#cfe8f5" stroke="#2f78b0" stroke-width="1" opacity="0.8"/>
<ellipse cx="726" cy="222" rx="1.7" ry="1.3" fill="#cfe8f5" stroke="#2f78b0" stroke-width="1" opacity="0.8"/>
<ellipse cx="745" cy="232" rx="1.3" ry="1.0" fill="#cfe8f5" stroke="#2f78b0" stroke-width="1" opacity="0.8"/>
<ellipse cx="520" cy="168" rx="1.6" ry="1.2" fill="#cfe8f5" stroke="#2f78b0" stroke-width="1" opacity="0.8"/>
<ellipse cx="528" cy="214" rx="1.8" ry="1.4" fill="#cfe8f5" stroke="#2f78b0" stroke-width="1" opacity="0.8"/>
<defs><linearGradient id="beam" x1="0" y1="0" x2="1" y2="0"><stop offset="0" stop-color="#d8d8d8" stop-opacity="0.9"/><stop offset="1" stop-color="#ffffff" stop-opacity="0"/></linearGradient><linearGradient id="beam2" x1="1" y1="0" x2="0" y2="0"><stop offset="0" stop-color="#d8d8d8" stop-opacity="0.9"/><stop offset="1" stop-color="#ffffff" stop-opacity="0"/></linearGradient></defs>
<path d="M405,157 L505,207 L511,201 L413,152 Z" fill="url(#beam)" opacity="0.7"/>
<defs><linearGradient id="beam3" x1="0" y1="0" x2="0" y2="1"><stop offset="0" stop-color="#c8c8c8" stop-opacity="0.9"/><stop offset="1" stop-color="#ffffff" stop-opacity="0"/></linearGradient></defs>
<path d="M884,136 L860,153 L808,173.5 L745,197 L745,205 L808,181 L862,161 L888,143 Z" fill="url(#beam3)" opacity="0.8"/>
<circle cx="432" cy="212" r="32" fill="none" stroke="#dfe8ec" stroke-width="1.2" opacity="0.7"/>
<circle cx="798" cy="233" r="38" fill="none" stroke="#dfe8ec" stroke-width="1.2" opacity="0.7"/>
<circle cx="871" cy="265" r="13" fill="none" stroke="#f3ecd0" stroke-width="1.2" opacity="0.7"/>
<circle cx="812" cy="300" r="18" fill="none" stroke="#f3ecd0" stroke-width="1.2" opacity="0.7"/>
<circle cx="470" cy="415" r="22" fill="none" stroke="#e6eef0" stroke-width="1.2" opacity="0.7"/>
<circle cx="440" cy="330" r="30" fill="none" stroke="#e8eef0" stroke-width="1.2" opacity="0.7"/>
<circle cx="898" cy="320" r="7" fill="none" stroke="#eeeeee" stroke-width="1.2" opacity="0.7"/>
<g stroke-linecap="butt">
<line x1="477.1" y1="228.0" x2="497.5" y2="214.4" stroke="#2a86d4" stroke-width="5"/>
<line x1="497.5" y1="214.4" x2="517.9" y2="200.8" stroke="#d81c22" stroke-width="5"/>
<line x1="477.1" y1="228.0" x2="453.1" y2="237.1" stroke="#2a86d4" stroke-width="5"/>
<line x1="453.1" y1="237.1" x2="429.0" y2="246.2" stroke="#d81c22" stroke-width="5"/>
<line x1="550.6" y1="209.9" x2="571.9" y2="196.3" stroke="#2a86d4" stroke-width="5"/>
<line x1="571.9" y1="196.3" x2="593.2" y2="182.7" stroke="#d81c22" stroke-width="5"/>
<line x1="550.6" y1="209.9" x2="529.2" y2="223.5" stroke="#2a86d4" stroke-width="5"/>
<line x1="529.2" y1="223.5" x2="507.9" y2="237.1" stroke="#d81c22" stroke-width="5"/>
<line x1="550.6" y1="209.9" x2="565.5" y2="225.3" stroke="#2a86d4" stroke-width="5"/>
<line x1="565.5" y1="225.3" x2="580.5" y2="240.7" stroke="#d81c22" stroke-width="5"/>
<line x1="550.6" y1="209.9" x2="535.2" y2="194.0" stroke="#2a86d4" stroke-width="5"/>
<line x1="535.2" y1="194.0" x2="519.7" y2="178.1" stroke="#d81c22" stroke-width="5"/>
<line x1="550.6" y1="234.4" x2="571.9" y2="219.9" stroke="#2a86d4" stroke-width="5"/>
<line x1="571.9" y1="219.9" x2="593.2" y2="205.3" stroke="#d81c22" stroke-width="5"/>
<line x1="550.6" y1="234.4" x2="565.1" y2="250.2" stroke="#2a86d4" stroke-width="5"/>
<line x1="565.1" y1="250.2" x2="579.6" y2="266.1" stroke="#d81c22" stroke-width="5"/>
<line x1="550.6" y1="234.4" x2="534.2" y2="217.6" stroke="#2a86d4" stroke-width="5"/>
<line x1="534.2" y1="217.6" x2="517.9" y2="200.8" stroke="#d81c22" stroke-width="5"/>
<line x1="550.6" y1="234.4" x2="554.2" y2="251.1" stroke="#2a86d4" stroke-width="5"/>
<line x1="554.2" y1="251.1" x2="557.8" y2="267.9" stroke="#d81c22" stroke-width="5"/>
<line x1="624.0" y1="212.6" x2="646.0" y2="199.0" stroke="#2a86d4" stroke-width="5"/>
<line x1="646.0" y1="199.0" x2="668.1" y2="185.4" stroke="#d81c22" stroke-width="5"/>
<line x1="624.0" y1="212.6" x2="602.2" y2="226.6" stroke="#2a86d4" stroke-width="5"/>
<line x1="602.2" y1="226.6" x2="580.5" y2="240.7" stroke="#d81c22" stroke-width="5"/>
<line x1="624.0" y1="212.6" x2="639.7" y2="228.9" stroke="#2a86d4" stroke-width="5"/>
<line x1="639.7" y1="228.9" x2="655.4" y2="245.3" stroke="#d81c22" stroke-width="5"/>
<line x1="624.0" y1="212.6" x2="608.6" y2="197.6" stroke="#2a86d4" stroke-width="5"/>
<line x1="608.6" y1="197.6" x2="593.2" y2="182.7" stroke="#d81c22" stroke-width="5"/>
<line x1="623.0" y1="236.2" x2="644.6" y2="223.5" stroke="#e8d23a" stroke-width="5"/>
<line x1="644.6" y1="223.5" x2="666.3" y2="210.8" stroke="#d81c22" stroke-width="5"/>
<line x1="623.0" y1="236.2" x2="601.3" y2="251.2" stroke="#e8d23a" stroke-width="5"/>
<line x1="601.3" y1="251.2" x2="579.6" y2="266.1" stroke="#d81c22" stroke-width="5"/>
<line x1="623.0" y1="236.2" x2="636.0" y2="250.7" stroke="#e8d23a" stroke-width="5"/>
<line x1="636.0" y1="250.7" x2="649.0" y2="265.2" stroke="#d81c22" stroke-width="5"/>
<line x1="623.0" y1="236.2" x2="608.1" y2="220.8" stroke="#e8d23a" stroke-width="5"/>
<line x1="608.1" y1="220.8" x2="593.2" y2="205.3" stroke="#d81c22" stroke-width="5"/>
<line x1="623.0" y1="236.2" x2="628.8" y2="256.1" stroke="#e8d23a" stroke-width="5"/>
<line x1="628.8" y1="256.1" x2="634.5" y2="276.1" stroke="#d81c22" stroke-width="5"/>
<line x1="700.7" y1="214.4" x2="721.5" y2="201.7" stroke="#e6dc90" stroke-width="5"/>
<line x1="721.5" y1="201.7" x2="742.4" y2="189.0" stroke="#d81c22" stroke-width="5"/>
<line x1="700.7" y1="214.4" x2="678.0" y2="229.9" stroke="#e6dc90" stroke-width="5"/>
<line x1="678.0" y1="229.9" x2="655.4" y2="245.3" stroke="#d81c22" stroke-width="5"/>
<line x1="700.7" y1="214.4" x2="715.7" y2="231.7" stroke="#e6dc90" stroke-width="5"/>
<line x1="715.7" y1="231.7" x2="730.6" y2="248.9" stroke="#d81c22" stroke-width="5"/>
<line x1="700.7" y1="214.4" x2="684.4" y2="199.9" stroke="#e6dc90" stroke-width="5"/>
<line x1="684.4" y1="199.9" x2="668.1" y2="185.4" stroke="#d81c22" stroke-width="5"/>
<line x1="695.3" y1="241.6" x2="672.1" y2="253.4" stroke="#2a86d4" stroke-width="5"/>
<line x1="672.1" y1="253.4" x2="649.0" y2="265.2" stroke="#d81c22" stroke-width="5"/>
<line x1="695.3" y1="241.6" x2="712.0" y2="252.5" stroke="#2a86d4" stroke-width="5"/>
<line x1="712.0" y1="252.5" x2="728.8" y2="263.4" stroke="#d81c22" stroke-width="5"/>
<line x1="695.3" y1="241.6" x2="680.8" y2="226.2" stroke="#2a86d4" stroke-width="5"/>
<line x1="680.8" y1="226.2" x2="666.3" y2="210.8" stroke="#d81c22" stroke-width="5"/>
<line x1="695.3" y1="241.6" x2="702.1" y2="258.9" stroke="#2a86d4" stroke-width="5"/>
<line x1="702.1" y1="258.9" x2="708.9" y2="276.1" stroke="#d81c22" stroke-width="5"/>
<line x1="775.1" y1="221.7" x2="796.9" y2="208.1" stroke="#2a86d4" stroke-width="5"/>
<line x1="796.9" y1="208.1" x2="818.6" y2="194.5" stroke="#d81c22" stroke-width="5"/>
<line x1="775.1" y1="221.7" x2="752.9" y2="235.3" stroke="#2a86d4" stroke-width="5"/>
<line x1="752.9" y1="235.3" x2="730.6" y2="248.9" stroke="#d81c22" stroke-width="5"/>
<line x1="775.1" y1="221.7" x2="758.8" y2="205.3" stroke="#2a86d4" stroke-width="5"/>
<line x1="758.8" y1="205.3" x2="742.4" y2="189.0" stroke="#d81c22" stroke-width="5"/>
<line x1="521.5" y1="273.4" x2="497.9" y2="289.4" stroke="#2a86d4" stroke-width="5"/>
<line x1="497.9" y1="289.4" x2="474.4" y2="305.4" stroke="#d81c22" stroke-width="5"/>
<line x1="521.5" y1="273.4" x2="535.1" y2="291.7" stroke="#2a86d4" stroke-width="5"/>
<line x1="535.1" y1="291.7" x2="548.7" y2="310.0" stroke="#d81c22" stroke-width="5"/>
<line x1="521.5" y1="273.4" x2="514.7" y2="255.2" stroke="#2a86d4" stroke-width="5"/>
<line x1="514.7" y1="255.2" x2="507.9" y2="237.1" stroke="#d81c22" stroke-width="5"/>
<line x1="516.1" y1="295.0" x2="537.0" y2="281.4" stroke="#e8d23a" stroke-width="5"/>
<line x1="537.0" y1="281.4" x2="557.8" y2="267.9" stroke="#d81c22" stroke-width="5"/>
<line x1="516.1" y1="295.0" x2="493.9" y2="307.4" stroke="#e8d23a" stroke-width="5"/>
<line x1="493.9" y1="307.4" x2="471.6" y2="319.9" stroke="#d81c22" stroke-width="5"/>
<line x1="516.1" y1="295.0" x2="530.6" y2="310.6" stroke="#e8d23a" stroke-width="5"/>
<line x1="530.6" y1="310.6" x2="545.1" y2="326.3" stroke="#d81c22" stroke-width="5"/>
<line x1="516.1" y1="295.0" x2="522.0" y2="313.8" stroke="#e8d23a" stroke-width="5"/>
<line x1="522.0" y1="313.8" x2="527.9" y2="332.6" stroke="#d81c22" stroke-width="5"/>
<line x1="594.1" y1="277.9" x2="571.4" y2="293.9" stroke="#2a86d4" stroke-width="5"/>
<line x1="571.4" y1="293.9" x2="548.7" y2="310.0" stroke="#d81c22" stroke-width="5"/>
<line x1="594.1" y1="277.9" x2="608.2" y2="297.5" stroke="#2a86d4" stroke-width="5"/>
<line x1="608.2" y1="297.5" x2="622.2" y2="317.2" stroke="#d81c22" stroke-width="5"/>
<line x1="594.1" y1="277.9" x2="587.3" y2="259.3" stroke="#2a86d4" stroke-width="5"/>
<line x1="587.3" y1="259.3" x2="580.5" y2="240.7" stroke="#d81c22" stroke-width="5"/>
<line x1="590.0" y1="301.0" x2="612.2" y2="288.6" stroke="#2a86d4" stroke-width="5"/>
<line x1="612.2" y1="288.6" x2="634.5" y2="276.1" stroke="#d81c22" stroke-width="5"/>
<line x1="590.0" y1="301.0" x2="567.5" y2="313.6" stroke="#2a86d4" stroke-width="5"/>
<line x1="567.5" y1="313.6" x2="545.1" y2="326.3" stroke="#d81c22" stroke-width="5"/>
<line x1="590.0" y1="301.0" x2="606.8" y2="317.2" stroke="#2a86d4" stroke-width="5"/>
<line x1="606.8" y1="317.2" x2="623.6" y2="333.5" stroke="#d81c22" stroke-width="5"/>
<line x1="590.0" y1="301.0" x2="573.9" y2="284.4" stroke="#2a86d4" stroke-width="5"/>
<line x1="573.9" y1="284.4" x2="557.8" y2="267.9" stroke="#d81c22" stroke-width="5"/>
<line x1="590.0" y1="301.0" x2="584.8" y2="283.6" stroke="#2a86d4" stroke-width="5"/>
<line x1="584.8" y1="283.6" x2="579.6" y2="266.1" stroke="#d81c22" stroke-width="5"/>
<line x1="590.0" y1="301.0" x2="594.8" y2="319.1" stroke="#2a86d4" stroke-width="5"/>
<line x1="594.8" y1="319.1" x2="599.5" y2="337.2" stroke="#d81c22" stroke-width="5"/>
<line x1="668.1" y1="281.5" x2="645.2" y2="299.4" stroke="#2a86d4" stroke-width="5"/>
<line x1="645.2" y1="299.4" x2="622.2" y2="317.2" stroke="#d81c22" stroke-width="5"/>
<line x1="668.1" y1="281.5" x2="683.0" y2="299.4" stroke="#2a86d4" stroke-width="5"/>
<line x1="683.0" y1="299.4" x2="698.0" y2="317.2" stroke="#d81c22" stroke-width="5"/>
<line x1="668.1" y1="281.5" x2="661.8" y2="263.4" stroke="#2a86d4" stroke-width="5"/>
<line x1="661.8" y1="263.4" x2="655.4" y2="245.3" stroke="#d81c22" stroke-width="5"/>
<line x1="668.1" y1="281.5" x2="674.0" y2="304.8" stroke="#2a86d4" stroke-width="5"/>
<line x1="674.0" y1="304.8" x2="679.9" y2="328.1" stroke="#d81c22" stroke-width="5"/>
<line x1="665.3" y1="305.4" x2="687.1" y2="290.8" stroke="#2a86d4" stroke-width="5"/>
<line x1="687.1" y1="290.8" x2="708.9" y2="276.1" stroke="#d81c22" stroke-width="5"/>
<line x1="665.3" y1="305.4" x2="644.5" y2="319.4" stroke="#2a86d4" stroke-width="5"/>
<line x1="644.5" y1="319.4" x2="623.6" y2="333.5" stroke="#d81c22" stroke-width="5"/>
<line x1="665.3" y1="305.4" x2="680.8" y2="319.4" stroke="#2a86d4" stroke-width="5"/>
<line x1="680.8" y1="319.4" x2="696.2" y2="333.5" stroke="#d81c22" stroke-width="5"/>
<line x1="665.3" y1="305.4" x2="649.9" y2="290.8" stroke="#2a86d4" stroke-width="5"/>
<line x1="649.9" y1="290.8" x2="634.5" y2="276.1" stroke="#d81c22" stroke-width="5"/>
<line x1="665.3" y1="305.4" x2="657.1" y2="285.3" stroke="#2a86d4" stroke-width="5"/>
<line x1="657.1" y1="285.3" x2="649.0" y2="265.2" stroke="#d81c22" stroke-width="5"/>
<line x1="665.3" y1="305.4" x2="671.6" y2="326.2" stroke="#2a86d4" stroke-width="5"/>
<line x1="671.6" y1="326.2" x2="678.0" y2="347.1" stroke="#d81c22" stroke-width="5"/>
<line x1="745.2" y1="285.2" x2="721.6" y2="301.2" stroke="#2a86d4" stroke-width="5"/>
<line x1="721.6" y1="301.2" x2="698.0" y2="317.2" stroke="#d81c22" stroke-width="5"/>
<line x1="745.2" y1="285.2" x2="759.2" y2="303.4" stroke="#2a86d4" stroke-width="5"/>
<line x1="759.2" y1="303.4" x2="773.3" y2="321.7" stroke="#d81c22" stroke-width="5"/>
<line x1="745.2" y1="285.2" x2="737.9" y2="267.1" stroke="#2a86d4" stroke-width="5"/>
<line x1="737.9" y1="267.1" x2="730.6" y2="248.9" stroke="#d81c22" stroke-width="5"/>
<line x1="745.2" y1="285.2" x2="748.8" y2="306.6" stroke="#2a86d4" stroke-width="5"/>
<line x1="748.8" y1="306.6" x2="752.4" y2="328.1" stroke="#d81c22" stroke-width="5"/>
<line x1="739.7" y1="305.4" x2="761.5" y2="292.1" stroke="#2a86d4" stroke-width="5"/>
<line x1="761.5" y1="292.1" x2="783.3" y2="278.8" stroke="#d81c22" stroke-width="5"/>
<line x1="739.7" y1="305.4" x2="718.0" y2="319.4" stroke="#2a86d4" stroke-width="5"/>
<line x1="718.0" y1="319.4" x2="696.2" y2="333.5" stroke="#d81c22" stroke-width="5"/>
<line x1="739.7" y1="305.4" x2="755.6" y2="320.9" stroke="#2a86d4" stroke-width="5"/>
<line x1="755.6" y1="320.9" x2="771.5" y2="336.3" stroke="#d81c22" stroke-width="5"/>
<line x1="739.7" y1="305.4" x2="724.3" y2="290.8" stroke="#2a86d4" stroke-width="5"/>
<line x1="724.3" y1="290.8" x2="708.9" y2="276.1" stroke="#d81c22" stroke-width="5"/>
<line x1="739.7" y1="305.4" x2="734.2" y2="284.4" stroke="#2a86d4" stroke-width="5"/>
<line x1="734.2" y1="284.4" x2="728.8" y2="263.4" stroke="#d81c22" stroke-width="5"/>
<line x1="739.7" y1="305.4" x2="744.2" y2="328.5" stroke="#2a86d4" stroke-width="5"/>
<line x1="744.2" y1="328.5" x2="748.8" y2="351.7" stroke="#d81c22" stroke-width="5"/>
<line x1="561.4" y1="346.2" x2="540.1" y2="363.9" stroke="#2a86d4" stroke-width="5"/>
<line x1="540.1" y1="363.9" x2="518.8" y2="381.6" stroke="#d81c22" stroke-width="5"/>
<line x1="561.4" y1="346.2" x2="577.3" y2="365.2" stroke="#2a86d4" stroke-width="5"/>
<line x1="577.3" y1="365.2" x2="593.2" y2="384.3" stroke="#d81c22" stroke-width="5"/>
<line x1="561.4" y1="346.2" x2="555.0" y2="328.1" stroke="#2a86d4" stroke-width="5"/>
<line x1="555.0" y1="328.1" x2="548.7" y2="310.0" stroke="#d81c22" stroke-width="5"/>
<line x1="481.6" y1="360.7" x2="504.8" y2="346.6" stroke="#2a86d4" stroke-width="5"/>
<line x1="504.8" y1="346.6" x2="527.9" y2="332.6" stroke="#d81c22" stroke-width="5"/>
<line x1="481.6" y1="360.7" x2="459.0" y2="375.7" stroke="#2a86d4" stroke-width="5"/>
<line x1="459.0" y1="375.7" x2="436.3" y2="390.7" stroke="#d81c22" stroke-width="5"/>
<line x1="481.6" y1="360.7" x2="498.9" y2="377.9" stroke="#2a86d4" stroke-width="5"/>
<line x1="498.9" y1="377.9" x2="516.1" y2="395.2" stroke="#d81c22" stroke-width="5"/>
<line x1="481.6" y1="360.7" x2="465.8" y2="348.0" stroke="#2a86d4" stroke-width="5"/>
<line x1="465.8" y1="348.0" x2="449.9" y2="335.3" stroke="#d81c22" stroke-width="5"/>
<line x1="481.6" y1="360.7" x2="476.6" y2="340.3" stroke="#2a86d4" stroke-width="5"/>
<line x1="476.6" y1="340.3" x2="471.6" y2="319.9" stroke="#d81c22" stroke-width="5"/>
<line x1="556.9" y1="365.3" x2="578.2" y2="351.2" stroke="#2a86d4" stroke-width="5"/>
<line x1="578.2" y1="351.2" x2="599.5" y2="337.2" stroke="#d81c22" stroke-width="5"/>
<line x1="556.9" y1="365.3" x2="536.5" y2="380.2" stroke="#2a86d4" stroke-width="5"/>
<line x1="536.5" y1="380.2" x2="516.1" y2="395.2" stroke="#d81c22" stroke-width="5"/>
<line x1="556.9" y1="365.3" x2="572.3" y2="383.9" stroke="#2a86d4" stroke-width="5"/>
<line x1="572.3" y1="383.9" x2="587.7" y2="402.5" stroke="#d81c22" stroke-width="5"/>
<line x1="556.9" y1="365.3" x2="542.4" y2="349.0" stroke="#2a86d4" stroke-width="5"/>
<line x1="542.4" y1="349.0" x2="527.9" y2="332.6" stroke="#d81c22" stroke-width="5"/>
<line x1="556.9" y1="365.3" x2="551.0" y2="345.8" stroke="#2a86d4" stroke-width="5"/>
<line x1="551.0" y1="345.8" x2="545.1" y2="326.3" stroke="#d81c22" stroke-width="5"/>
<line x1="637.2" y1="348.0" x2="658.5" y2="338.1" stroke="#e8d23a" stroke-width="5"/>
<line x1="658.5" y1="338.1" x2="679.9" y2="328.1" stroke="#d81c22" stroke-width="5"/>
<line x1="637.2" y1="348.0" x2="615.2" y2="366.1" stroke="#e8d23a" stroke-width="5"/>
<line x1="615.2" y1="366.1" x2="593.2" y2="384.3" stroke="#d81c22" stroke-width="5"/>
<line x1="637.2" y1="348.0" x2="652.2" y2="368.0" stroke="#e8d23a" stroke-width="5"/>
<line x1="652.2" y1="368.0" x2="667.2" y2="388.0" stroke="#d81c22" stroke-width="5"/>
<line x1="637.2" y1="348.0" x2="629.7" y2="332.6" stroke="#e8d23a" stroke-width="5"/>
<line x1="629.7" y1="332.6" x2="622.2" y2="317.2" stroke="#d81c22" stroke-width="5"/>
<line x1="630.9" y1="371.6" x2="654.5" y2="359.4" stroke="#2a86d4" stroke-width="5"/>
<line x1="654.5" y1="359.4" x2="678.0" y2="347.1" stroke="#d81c22" stroke-width="5"/>
<line x1="630.9" y1="371.6" x2="609.3" y2="387.1" stroke="#2a86d4" stroke-width="5"/>
<line x1="609.3" y1="387.1" x2="587.7" y2="402.5" stroke="#d81c22" stroke-width="5"/>
<line x1="630.9" y1="371.6" x2="648.6" y2="389.3" stroke="#2a86d4" stroke-width="5"/>
<line x1="648.6" y1="389.3" x2="666.3" y2="407.0" stroke="#d81c22" stroke-width="5"/>
<line x1="630.9" y1="371.6" x2="615.2" y2="354.4" stroke="#2a86d4" stroke-width="5"/>
<line x1="615.2" y1="354.4" x2="599.5" y2="337.2" stroke="#d81c22" stroke-width="5"/>
<line x1="630.9" y1="371.6" x2="627.2" y2="352.6" stroke="#2a86d4" stroke-width="5"/>
<line x1="627.2" y1="352.6" x2="623.6" y2="333.5" stroke="#d81c22" stroke-width="5"/>
<line x1="710.7" y1="351.7" x2="731.5" y2="339.9" stroke="#2a86d4" stroke-width="5"/>
<line x1="731.5" y1="339.9" x2="752.4" y2="328.1" stroke="#d81c22" stroke-width="5"/>
<line x1="710.7" y1="351.7" x2="689.0" y2="369.9" stroke="#2a86d4" stroke-width="5"/>
<line x1="689.0" y1="369.9" x2="667.2" y2="388.0" stroke="#d81c22" stroke-width="5"/>
<line x1="710.7" y1="351.7" x2="724.3" y2="370.3" stroke="#2a86d4" stroke-width="5"/>
<line x1="724.3" y1="370.3" x2="737.9" y2="388.9" stroke="#d81c22" stroke-width="5"/>
<line x1="710.7" y1="351.7" x2="695.3" y2="339.9" stroke="#2a86d4" stroke-width="5"/>
<line x1="695.3" y1="339.9" x2="679.9" y2="328.1" stroke="#d81c22" stroke-width="5"/>
<line x1="710.7" y1="351.7" x2="704.4" y2="334.4" stroke="#2a86d4" stroke-width="5"/>
<line x1="704.4" y1="334.4" x2="698.0" y2="317.2" stroke="#d81c22" stroke-width="5"/>
<line x1="706.2" y1="372.5" x2="727.5" y2="362.1" stroke="#e8d23a" stroke-width="5"/>
<line x1="727.5" y1="362.1" x2="748.8" y2="351.7" stroke="#d81c22" stroke-width="5"/>
<line x1="706.2" y1="372.5" x2="686.2" y2="389.8" stroke="#e8d23a" stroke-width="5"/>
<line x1="686.2" y1="389.8" x2="666.3" y2="407.0" stroke="#d81c22" stroke-width="5"/>
<line x1="706.2" y1="372.5" x2="720.2" y2="390.2" stroke="#e8d23a" stroke-width="5"/>
<line x1="720.2" y1="390.2" x2="734.3" y2="407.9" stroke="#d81c22" stroke-width="5"/>
<line x1="706.2" y1="372.5" x2="692.1" y2="359.8" stroke="#e8d23a" stroke-width="5"/>
<line x1="692.1" y1="359.8" x2="678.0" y2="347.1" stroke="#d81c22" stroke-width="5"/>
<line x1="706.2" y1="372.5" x2="701.2" y2="353.0" stroke="#e8d23a" stroke-width="5"/>
<line x1="701.2" y1="353.0" x2="696.2" y2="333.5" stroke="#d81c22" stroke-width="5"/>
<line x1="784.2" y1="359.8" x2="806.4" y2="345.3" stroke="#2a86d4" stroke-width="5"/>
<line x1="806.4" y1="345.3" x2="828.6" y2="330.8" stroke="#d81c22" stroke-width="5"/>
<line x1="784.2" y1="359.8" x2="761.0" y2="374.4" stroke="#2a86d4" stroke-width="5"/>
<line x1="761.0" y1="374.4" x2="737.9" y2="388.9" stroke="#d81c22" stroke-width="5"/>
<line x1="784.2" y1="359.8" x2="801.0" y2="379.3" stroke="#2a86d4" stroke-width="5"/>
<line x1="801.0" y1="379.3" x2="817.7" y2="398.8" stroke="#d81c22" stroke-width="5"/>
<line x1="784.2" y1="359.8" x2="768.3" y2="344.0" stroke="#2a86d4" stroke-width="5"/>
<line x1="768.3" y1="344.0" x2="752.4" y2="328.1" stroke="#d81c22" stroke-width="5"/>
<line x1="784.2" y1="359.8" x2="778.8" y2="340.8" stroke="#2a86d4" stroke-width="5"/>
<line x1="778.8" y1="340.8" x2="773.3" y2="321.7" stroke="#d81c22" stroke-width="5"/>
<line x1="640" y1="280.6" x2="634.5" y2="276.1" stroke="#e8d0d0" stroke-width="3"/>
<line x1="714.3" y1="285.2" x2="708.9" y2="276.1" stroke="#e8d0d0" stroke-width="3"/>
<line x1="730.6" y1="287" x2="728.8" y2="263.4" stroke="#e8d0d0" stroke-width="3"/>
<line x1="458" y1="339.9" x2="449.9" y2="335.3" stroke="#e8d0d0" stroke-width="3"/>
<line x1="464.4" y1="313.6" x2="471.6" y2="319.9" stroke="#e8d0d0" stroke-width="3"/>
<line x1="534.2" y1="345.3" x2="527.9" y2="332.6" stroke="#e8d0d0" stroke-width="3"/>
<line x1="615.9" y1="344.4" x2="623.6" y2="333.5" stroke="#e8d0d0" stroke-width="3"/>
<line x1="427.2" y1="400.6" x2="436.3" y2="390.7" stroke="#e8d0d0" stroke-width="3"/>
<line x1="509.7" y1="406.1" x2="516.1" y2="395.2" stroke="#e8d0d0" stroke-width="3"/>
<line x1="577.8" y1="421.5" x2="587.7" y2="402.5" stroke="#e8d0d0" stroke-width="3"/>
<line x1="836.8" y1="317.2" x2="828.6" y2="330.8" stroke="#e8d0d0" stroke-width="3"/>
<line x1="679.9" y1="353.5" x2="678" y2="347.1" stroke="#e8d0d0" stroke-width="3"/>
<line x1="664.4" y1="425.1" x2="666.3" y2="407" stroke="#e8d0d0" stroke-width="3"/>
<line x1="726.1" y1="417" x2="734.3" y2="407.9" stroke="#e8d0d0" stroke-width="3"/>
<line x1="811.4" y1="419.7" x2="817.7" y2="398.8" stroke="#e8d0d0" stroke-width="3"/>
</g>
<g opacity="0.45">
<circle cx="485.3" cy="261.6" r="7.5" fill="#ef8c8c"/>
<circle cx="492" cy="272" r="6" fill="#ef8c8c"/>
<circle cx="478" cy="284" r="5.5" fill="#ef8c8c"/>
<circle cx="497" cy="250" r="5" fill="#ef8c8c"/>
<circle cx="792.3" cy="252.5" r="7.5" fill="#ef8c8c"/>
<circle cx="800" cy="262" r="6" fill="#ef8c8c"/>
<circle cx="786" cy="266" r="5" fill="#ef8c8c"/>
<path d="M486,262 L497,250 M792,252 L806,262" stroke="#f0a8a8" stroke-width="4" fill="none"/>
</g>
<defs><radialGradient id="ballP" cx="0.42" cy="0.40" r="0.62"><stop offset="0" stop-color="#fffdf0"/><stop offset="0.3" stop-color="#f6eeb8"/><stop offset="0.75" stop-color="#e6d67a"/><stop offset="1" stop-color="#c8b650"/></radialGradient></defs>
<circle cx="519.7" cy="178.1" r="7.6" fill="url(#ballR)"/>
<circle cx="593.2" cy="182.7" r="7.6" fill="url(#ballR)"/>
<circle cx="668.1" cy="185.4" r="7.6" fill="url(#ballR)"/>
<circle cx="742.4" cy="189" r="7.6" fill="url(#ballR)"/>
<circle cx="818.6" cy="194.5" r="7.6" fill="url(#ballR)"/>
<circle cx="517.9" cy="200.8" r="7.6" fill="url(#ballR)"/>
<circle cx="593.2" cy="205.3" r="7.6" fill="url(#ballR)"/>
<circle cx="550.6" cy="209.9" r="13" fill="url(#ballB)"/>
<circle cx="666.3" cy="210.8" r="7.6" fill="url(#ballR)"/>
<circle cx="624" cy="212.6" r="13" fill="url(#ballB)"/>
<circle cx="700.7" cy="214.4" r="13" fill="url(#ballP)"/>
<circle cx="775.1" cy="221.7" r="13" fill="url(#ballB)"/>
<circle cx="477.1" cy="228" r="13" fill="url(#ballB)"/>
<circle cx="550.6" cy="234.4" r="13" fill="url(#ballB)"/>
<circle cx="623" cy="236.2" r="13" fill="url(#ballY)"/>
<circle cx="507.9" cy="237.1" r="7.6" fill="url(#ballR)"/>
<circle cx="580.5" cy="240.7" r="7.6" fill="url(#ballR)"/>
<circle cx="695.3" cy="241.6" r="13" fill="url(#ballB)"/>
<circle cx="655.4" cy="245.3" r="7.6" fill="url(#ballR)"/>
<circle cx="429" cy="246.2" r="7.6" fill="url(#ballR)"/>
<circle cx="730.6" cy="248.9" r="7.6" fill="url(#ballR)"/>
<circle cx="728.8" cy="263.4" r="7.6" fill="url(#ballR)"/>
<circle cx="649" cy="265.2" r="7.6" fill="url(#ballR)"/>
<circle cx="579.6" cy="266.1" r="7.6" fill="url(#ballR)"/>
<circle cx="557.8" cy="267.9" r="7.6" fill="url(#ballR)"/>
<circle cx="521.5" cy="273.4" r="13" fill="url(#ballB)"/>
<circle cx="490.7" cy="274.3" r="4.2" fill="url(#ballH)"/>
<circle cx="634.5" cy="276.1" r="7.6" fill="url(#ballR)"/>
<circle cx="708.9" cy="276.1" r="7.6" fill="url(#ballR)"/>
<circle cx="594.1" cy="277.9" r="13" fill="url(#ballB)"/>
<circle cx="783.3" cy="278.8" r="7.6" fill="url(#ballR)"/>
<circle cx="640" cy="280.6" r="4.2" fill="url(#ballH)"/>
<circle cx="668.1" cy="281.5" r="13" fill="url(#ballB)"/>
<circle cx="714.3" cy="285.2" r="4.2" fill="url(#ballH)"/>
<circle cx="745.2" cy="285.2" r="13" fill="url(#ballB)"/>
<circle cx="730.6" cy="287" r="4.2" fill="url(#ballH)"/>
<circle cx="516.1" cy="295" r="13" fill="url(#ballY)"/>
<circle cx="590" cy="301" r="13" fill="url(#ballB)"/>
<circle cx="474.4" cy="305.4" r="7.6" fill="url(#ballR)"/>
<circle cx="665.3" cy="305.4" r="13" fill="url(#ballB)"/>
<circle cx="739.7" cy="305.4" r="13" fill="url(#ballB)"/>
<circle cx="548.7" cy="310" r="7.6" fill="url(#ballR)"/>
<circle cx="464.4" cy="313.6" r="4.2" fill="url(#ballH)"/>
<circle cx="622.2" cy="317.2" r="7.6" fill="url(#ballR)"/>
<circle cx="698" cy="317.2" r="7.6" fill="url(#ballR)"/>
<circle cx="836.8" cy="317.2" r="4.2" fill="url(#ballH)"/>
<circle cx="471.6" cy="319.9" r="7.6" fill="url(#ballR)"/>
<circle cx="773.3" cy="321.7" r="7.6" fill="url(#ballR)"/>
<circle cx="545.1" cy="326.3" r="7.6" fill="url(#ballR)"/>
<circle cx="679.9" cy="328.1" r="7.6" fill="url(#ballR)"/>
<circle cx="752.4" cy="328.1" r="7.6" fill="url(#ballR)"/>
<circle cx="828.6" cy="330.8" r="7.6" fill="url(#ballR)"/>
<circle cx="527.9" cy="332.6" r="7.6" fill="url(#ballR)"/>
<circle cx="623.6" cy="333.5" r="7.6" fill="url(#ballR)"/>
<circle cx="696.2" cy="333.5" r="7.6" fill="url(#ballR)"/>
<circle cx="449.9" cy="335.3" r="7.6" fill="url(#ballR)"/>
<circle cx="771.5" cy="336.3" r="7.6" fill="url(#ballR)"/>
<circle cx="599.5" cy="337.2" r="7.6" fill="url(#ballR)"/>
<circle cx="458" cy="339.9" r="4.2" fill="url(#ballH)"/>
<circle cx="615.9" cy="344.4" r="4.2" fill="url(#ballH)"/>
<circle cx="534.2" cy="345.3" r="4.2" fill="url(#ballH)"/>
<circle cx="561.4" cy="346.2" r="13" fill="url(#ballB)"/>
<circle cx="678" cy="347.1" r="7.6" fill="url(#ballR)"/>
<circle cx="637.2" cy="348" r="13" fill="url(#ballY)"/>
<circle cx="710.7" cy="351.7" r="13" fill="url(#ballB)"/>
<circle cx="748.8" cy="351.7" r="7.6" fill="url(#ballR)"/>
<circle cx="679.9" cy="353.5" r="4.2" fill="url(#ballH)"/>
<circle cx="784.2" cy="359.8" r="13" fill="url(#ballB)"/>
<circle cx="481.6" cy="360.7" r="13" fill="url(#ballB)"/>
<circle cx="556.9" cy="365.3" r="13" fill="url(#ballB)"/>
<circle cx="630.9" cy="371.6" r="13" fill="url(#ballB)"/>
<circle cx="706.2" cy="372.5" r="13" fill="url(#ballY)"/>
<circle cx="518.8" cy="381.6" r="7.6" fill="url(#ballR)"/>
<circle cx="593.2" cy="384.3" r="7.6" fill="url(#ballR)"/>
<circle cx="667.2" cy="388" r="7.6" fill="url(#ballR)"/>
<circle cx="737.9" cy="388.9" r="7.6" fill="url(#ballR)"/>
<circle cx="436.3" cy="390.7" r="7.6" fill="url(#ballR)"/>
<circle cx="516.1" cy="395.2" r="7.6" fill="url(#ballR)"/>
<circle cx="817.7" cy="398.8" r="7.6" fill="url(#ballR)"/>
<circle cx="427.2" cy="400.6" r="4.2" fill="url(#ballH)"/>
<circle cx="587.7" cy="402.5" r="7.6" fill="url(#ballR)"/>
<circle cx="509.7" cy="406.1" r="4.2" fill="url(#ballH)"/>
<circle cx="666.3" cy="407" r="7.6" fill="url(#ballR)"/>
<circle cx="734.3" cy="407.9" r="7.6" fill="url(#ballR)"/>
<circle cx="726.1" cy="417" r="4.2" fill="url(#ballH)"/>
<circle cx="811.4" cy="419.7" r="4.2" fill="url(#ballH)"/>
<circle cx="577.8" cy="421.5" r="4.2" fill="url(#ballH)"/>
<circle cx="664.4" cy="425.1" r="4.2" fill="url(#ballH)"/>
<g stroke-linecap="butt">
<polyline points="386,107 410,94 435,110 459,94 484,110 508,94 533,108" fill="none" stroke="#d81c22" stroke-width="5.5"/>
<polyline points="388,146 414,158 435,147 459,165 484,147 508,158 532,147" fill="none" stroke="#d81c22" stroke-width="5.5"/>
<line x1="411" y1="131" x2="387" y2="112" stroke="#e8d23a" stroke-width="5.5"/>
<line x1="411" y1="131" x2="435" y2="112" stroke="#e8d23a" stroke-width="5.5"/>
<line x1="411" y1="131" x2="387" y2="150" stroke="#e8d23a" stroke-width="5.5"/>
<line x1="411" y1="131" x2="435" y2="150" stroke="#e8d23a" stroke-width="5.5"/>
<line x1="459" y1="131" x2="435" y2="112" stroke="#2a86d4" stroke-width="5.5"/>
<line x1="459" y1="131" x2="483" y2="112" stroke="#2a86d4" stroke-width="5.5"/>
<line x1="459" y1="131" x2="435" y2="150" stroke="#2a86d4" stroke-width="5.5"/>
<line x1="459" y1="131" x2="483" y2="150" stroke="#2a86d4" stroke-width="5.5"/>
<line x1="509.5" y1="131" x2="485.5" y2="112" stroke="#2a86d4" stroke-width="5.5"/>
<line x1="509.5" y1="131" x2="533.5" y2="112" stroke="#2a86d4" stroke-width="5.5"/>
<line x1="509.5" y1="131" x2="485.5" y2="150" stroke="#2a86d4" stroke-width="5.5"/>
<line x1="509.5" y1="131" x2="533.5" y2="150" stroke="#2a86d4" stroke-width="5.5"/>
<line x1="459" y1="131" x2="459" y2="94" stroke="#2a86d4" stroke-width="5.5"/>
<line x1="459" y1="112" x2="459" y2="94" stroke="#d81c22" stroke-width="5.5"/>
<line x1="459" y1="94" x2="459" y2="35" stroke="#d81c22" stroke-width="5.5"/>
<line x1="459" y1="131" x2="459" y2="165" stroke="#2a86d4" stroke-width="5.5"/>
</g>
<circle cx="459" cy="94" r="9" fill="url(#ballR)"/>
<circle cx="410" cy="94" r="9" fill="url(#ballR)"/>
<circle cx="508" cy="94" r="9" fill="url(#ballR)"/>
<circle cx="459" cy="73" r="9" fill="url(#ballR)"/>
<circle cx="461" cy="48" r="5" fill="url(#ballH)"/>
<circle cx="459" cy="35.5" r="8.5" fill="url(#ballR)"/>
<circle cx="411" cy="131" r="17" fill="url(#ballY)"/>
<circle cx="459" cy="131" r="17" fill="url(#ballB)"/>
<circle cx="509.5" cy="131" r="17" fill="url(#ballB)"/>
<circle cx="459" cy="163" r="8" fill="url(#ballR)"/>
<circle cx="459" cy="170" r="4.5" fill="url(#ballH)"/>
<clipPath id="lomclip"><path d="M700,0 L900,0 L900,128 L884,136 L860,153 L808,173.5 L745,197 L700,197 Z"/></clipPath>
<g clip-path="url(#lomclip)">
<g stroke-linecap="butt">
<polyline points="735,100 763,86 785,98 807,74.5 833,98 858.5,84 884,98" fill="none" stroke="#d81c22" stroke-width="5.5"/>
<polyline points="737,132 763,145.6 785,132 808,143 833,132 858.5,150 882,133" fill="none" stroke="#d81c22" stroke-width="6.5"/>
<line x1="754" y1="114.7" x2="730" y2="98" stroke="#e8d23a" stroke-width="5.5"/>
<line x1="754" y1="114.7" x2="778" y2="98" stroke="#e8d23a" stroke-width="5.5"/>
<line x1="754" y1="114.7" x2="730" y2="134" stroke="#e8d23a" stroke-width="5.5"/>
<line x1="754" y1="114.7" x2="778" y2="134" stroke="#e8d23a" stroke-width="5.5"/>
<line x1="811.5" y1="117" x2="787.5" y2="98" stroke="#e8d23a" stroke-width="5.5"/>
<line x1="811.5" y1="117" x2="835.5" y2="98" stroke="#e8d23a" stroke-width="5.5"/>
<line x1="811.5" y1="117" x2="787.5" y2="134" stroke="#e8d23a" stroke-width="5.5"/>
<line x1="811.5" y1="117" x2="835.5" y2="134" stroke="#e8d23a" stroke-width="5.5"/>
<line x1="863" y1="116" x2="839" y2="98" stroke="#2a86d4" stroke-width="5.5"/>
<line x1="863" y1="116" x2="887" y2="98" stroke="#2a86d4" stroke-width="5.5"/>
<line x1="863" y1="116" x2="839" y2="134" stroke="#2a86d4" stroke-width="5.5"/>
<line x1="863" y1="116" x2="887" y2="134" stroke="#2a86d4" stroke-width="5.5"/>
<line x1="807" y1="74.5" x2="805" y2="42" stroke="#d81c22" stroke-width="5.5"/>
<line x1="808" y1="143" x2="808" y2="170" stroke="#d81c22" stroke-width="5.5"/>
<line x1="863" y1="116" x2="860" y2="149" stroke="#2a86d4" stroke-width="5.5"/>
</g>
<circle cx="804.6" cy="42.4" r="9" fill="url(#ballR)"/>
<circle cx="807" cy="74.5" r="9.5" fill="url(#ballR)"/>
<circle cx="763" cy="86" r="9" fill="url(#ballR)"/>
<circle cx="858.5" cy="83.7" r="9" fill="url(#ballR)"/>
<circle cx="754" cy="114.7" r="17" fill="url(#ballY)"/>
<circle cx="811.5" cy="117" r="17" fill="url(#ballY)"/>
<circle cx="863" cy="116" r="17" fill="url(#ballB)"/>
<circle cx="763" cy="145.6" r="9" fill="url(#ballR)"/>
<circle cx="808" cy="143" r="9.5" fill="url(#ballR)"/>
<circle cx="858.5" cy="151" r="9" fill="url(#ballR)"/>
<circle cx="808" cy="170" r="8" fill="url(#ballR)"/>
</g>
<path d="M570.8,110.0 L570.8,126.0 M570.8,110.0 L574.10,110.0 A7.70,8.00 0 0 1 574.10,126.0 L570.8,126.0 M587.0,116.0 L587.0,122.00 Q587.0,126.0 590.65,126.0 Q594.3,126.0 594.3,122.00 M594.3,116.0 L594.3,126.0 M599.10,121.00 A3.78,5.00 0 1 0 606.66,121.00 A3.78,5.00 0 1 0 599.10,121.00 M607.5,116.0 L607.5,126.0 M613.0,110.0 L613.0,126.0 M619.8,121.00 L626.2,121.00 M632.8,116.0 L632.8,131.0 M632.80,121.00 A3.35,5.00 0 1 0 639.50,121.00 A3.35,5.00 0 1 0 632.80,121.00 M645.20,121.00 A3.51,5.00 0 1 0 652.22,121.00 A3.51,5.00 0 1 0 645.20,121.00 M653.0,116.0 L653.0,126.0 M660.04,111.50 L660.04,125.00 Q660.04,126.0 663.34,126.0 M657.4,116.0 L664.0,116.0 M669.0,110.0 L669.0,126.0 M669.0,120.00 Q669.80,116.0 673.00,116.0 Q677.0,116.0 677.0,120.00 L677.0,126.0 " fill="none" stroke="#111" stroke-width="2.9" stroke-linecap="round" stroke-linejoin="round"/>
<path d="M570.2,143.45 L570.2,153.2 M570.2,147.35 Q570.91,143.45 573.75,143.45 Q577.30,143.45 577.30,147.35 L577.30,153.2 M577.30,147.35 Q578.01,143.45 580.85,143.45 Q584.4,143.45 584.4,147.35 L584.4,153.2 M588.9,148.32 L597.0,148.32 Q597.0,143.45 592.95,143.45 Q588.9,143.45 588.9,148.32 Q588.9,153.2 593.36,153.2 Q596.19,153.2 597.0,151.74 M608.0,144.91 Q606.45,143.45 605.21,143.45 Q601.8,143.45 601.8,148.32 Q601.8,153.2 605.21,153.2 Q606.45,153.2 608.0,151.74 M613.5,137.75 L613.5,153.2 M613.5,147.35 Q614.30,143.45 617.50,143.45 Q621.5,143.45 621.5,147.35 L621.5,153.2 M626.40,148.32 A4.41,4.88 0 1 0 635.22,148.32 A4.41,4.88 0 1 0 626.40,148.32 M636.2,143.45 L636.2,153.2 M640.0,143.45 L640.0,153.2 M640.0,147.35 Q640.68,143.45 643.40,143.45 Q646.8,143.45 646.8,147.35 L646.8,153.2 M652.9,143.45 L652.9,153.2 M652.9,138.35 L652.9,138.75 M664.5,144.91 Q662.55,143.45 660.92,143.45 Q658.0,143.45 658.0,146.18 Q658.0,148.32 661.25,148.52 Q664.5,149.10 664.5,151.25 Q664.5,153.2 660.92,153.2 Q658.65,153.2 658.0,151.74 M669.4,143.45 L669.4,153.2 M669.4,147.35 Q670.07,143.45 672.75,143.45 Q676.10,143.45 676.10,147.35 L676.10,153.2 M676.10,147.35 Q676.77,143.45 679.45,143.45 Q682.8,143.45 682.8,147.35 L682.8,153.2 " fill="none" stroke="#111" stroke-width="2.9" stroke-linecap="round" stroke-linejoin="round"/>
<path d="M436.3,27.6 L444.5,13.3 L448,27.6 M439.6,22.2 L447,22.2 M463.5,13 L454.5,13 L454.5,27.6 L462,27.6 M454.5,20.2 L461.5,20.2 M468.5,27.6 L472.3,13.5 L475.6,23.5 L480.2,13.5 L483.6,27.6" fill="none" stroke="#111" stroke-width="3.3" stroke-linecap="round" stroke-linejoin="round"/>
<path d="M786.6,13.5 L786,27.2 L795,26.6 M805.8,13.3 C800,13.3 798.6,20 799.2,23.5 C799.8,27.5 803,28.5 805.5,28.2 C810,27.6 812,22 811.6,18 C811.2,14.5 808.8,13.3 805.8,13.3 Z M817.5,27.6 L821,13.5 L825.3,24 L830.6,13.5 L833.6,27.6" fill="none" stroke="#111" stroke-width="3.3" stroke-linecap="round" stroke-linejoin="round"/>
<circle cx="515.8" cy="452.8" r="8.8" fill="url(#ballB)"/>
<circle cx="590.3" cy="452.8" r="8.3" fill="url(#ballY)"/>
<circle cx="664.2" cy="452.8" r="6.3" fill="url(#ballR)"/>
<circle cx="728.6" cy="452.8" r="3.8" fill="#fff" stroke="#d8c0c0" stroke-width="1.3"/>
<text x="534" y="461.6" font-size="22" font-weight="bold" fill="#111">Ni</text>
<text x="610" y="461.6" font-size="22" font-weight="bold" fill="#111">Fe</text>
<text x="684.4" y="461.6" font-size="22" font-weight="bold" fill="#111">O</text>
<text x="742.5" y="461.6" font-size="22" font-weight="bold" fill="#111">H</text>
<defs>
 <linearGradient id="floor" x1="0" y1="0" x2="0" y2="1">
  <stop offset="0" stop-color="#ffffff" stop-opacity="0"/>
  <stop offset="0.2" stop-color="#f0f0f0"/>
  <stop offset="0.45" stop-color="#e3e3e3"/>
  <stop offset="0.8" stop-color="#e8e8e8"/>
  <stop offset="1" stop-color="#efefef"/>
 </linearGradient>
 <linearGradient id="darkplate" x1="0" y1="0" x2="0" y2="1">
  <stop offset="0" stop-color="#6e6e6e"/>
  <stop offset="0.08" stop-color="#5c5c5c"/>
  <stop offset="0.6" stop-color="#555555"/>
  <stop offset="1" stop-color="#5e5e5e"/>
 </linearGradient>
 <linearGradient id="silver" x1="0" y1="0" x2="1" y2="0">
  <stop offset="0" stop-color="#9a9a9a"/>
  <stop offset="0.5" stop-color="#878787"/>
  <stop offset="1" stop-color="#6e6e6e"/>
 </linearGradient>
 <linearGradient id="gasketg" x1="0" y1="0" x2="1" y2="1">
  <stop offset="0" stop-color="#f0f0f0"/>
  <stop offset="0.5" stop-color="#e6e6e6"/>
  <stop offset="1" stop-color="#d8d8d8"/>
 </linearGradient>
 <linearGradient id="collg" x1="0" y1="0" x2="1" y2="1">
  <stop offset="0" stop-color="#929292"/>
  <stop offset="0.5" stop-color="#838383"/>
  <stop offset="1" stop-color="#707070"/>
 </linearGradient>
 <linearGradient id="brass" x1="0" y1="0" x2="0" y2="1">
  <stop offset="0" stop-color="#e6cf8a"/>
  <stop offset="0.35" stop-color="#d2b062"/>
  <stop offset="0.7" stop-color="#b08a3c"/>
  <stop offset="1" stop-color="#8a6a2a"/>
 </linearGradient>
 <linearGradient id="steel" x1="0" y1="0" x2="0" y2="1">
  <stop offset="0" stop-color="#9a9a9a"/>
  <stop offset="0.3" stop-color="#dcdcdc"/>
  <stop offset="0.6" stop-color="#8c8c8c"/>
  <stop offset="1" stop-color="#5e5e5e"/>
 </linearGradient>
 <linearGradient id="tabg" x1="0" y1="0" x2="1" y2="0">
  <stop offset="0" stop-color="#c8c8c8"/>
  <stop offset="0.5" stop-color="#b0b0b0"/>
  <stop offset="1" stop-color="#8e8e8e"/>
 </linearGradient>
 <linearGradient id="memb" x1="0" y1="0" x2="1" y2="1">
  <stop offset="0" stop-color="#ececd2"/>
  <stop offset="1" stop-color="#dedec0"/>
 </linearGradient>
 <linearGradient id="garrow" x1="0" y1="0" x2="0" y2="1">
  <stop offset="0" stop-color="#7fb57f"/>
  <stop offset="1" stop-color="#3e7e4a"/>
 </linearGradient>
 <linearGradient id="rarrow" x1="0" y1="1" x2="1" y2="0">
  <stop offset="0" stop-color="#f0c8c8" stop-opacity="0.3"/>
  <stop offset="0.5" stop-color="#c86060"/>
  <stop offset="1" stop-color="#b03838"/>
 </linearGradient>
 <filter id="blur6" x="-30%" y="-30%" width="160%" height="160%"><feGaussianBlur stdDeviation="6"/></filter>
 <filter id="blur3" x="-30%" y="-30%" width="160%" height="160%"><feGaussianBlur stdDeviation="3"/></filter>
</defs>
<rect x="4" y="680" width="527" height="177.5" fill="url(#floor)"/>
<ellipse cx="130" cy="770" rx="80" ry="14" fill="#b8b8b8" opacity="0.55" filter="url(#blur6)"/>
<ellipse cx="420" cy="748" rx="75" ry="12" fill="#b8b8b8" opacity="0.5" filter="url(#blur6)"/>
<ellipse cx="210" cy="770" rx="40" ry="8" fill="#c8c8c8" opacity="0.5" filter="url(#blur6)"/>
<ellipse cx="350" cy="752" rx="40" ry="8" fill="#c8c8c8" opacity="0.5" filter="url(#blur6)"/>
<rect x="131.5" y="536" width="13.3" height="42" fill="url(#tabg)"/>
<path d="M87.3,586 Q87.3,576 97,576 L135.5,576 L135.5,774 L92,759 Q87.3,757 87.3,750 Z" fill="url(#darkplate)"/>
<path d="M87.3,586 Q87.3,576 97,576 L135.5,576 L135.5,582 L88,582 Z" fill="#7c7c7c" opacity="0.8"/>
<path d="M133,576 L162,576 Q169.2,576 169.2,584 L169.2,766 Q169.2,774 162,774 L135.5,774 L133,770 Z" fill="url(#silver)"/>
<path d="M133,576 L162,576 Q169.2,576 169.2,584 L133,584 Z" fill="#b8b8b8" opacity="0.7"/>
<text transform="translate(157.5,747) rotate(-90)" font-size="17" font-weight="bold" fill="#2fb22f" textLength="137" lengthAdjust="spacingAndGlyphs">Cathode  side</text>
<rect x="57.8" y="631.7" width="20" height="8.5" rx="2" fill="url(#steel)"/>
<rect x="76" y="629.3" width="24" height="13.3" rx="1.5" fill="url(#steel)"/>
<rect x="99" y="630" width="36" height="12" fill="#6a6a6a" opacity="0.6"/>
<rect x="88.7" y="702.6" width="46.4" height="11" rx="2" fill="url(#steel)"/>
<rect x="76.5" y="589" width="32.3" height="22.3" rx="1.5" fill="url(#brass)"/>
<line x1="92.65" y1="590" x2="92.65" y2="610.3" stroke="#9a7a34" stroke-width="1"/>
<ellipse cx="79.0" cy="600.15" rx="2.6" ry="8.474" fill="#3a2a12"/>
<rect x="108.8" y="590" width="26.3" height="26" rx="1.5" fill="url(#brass)"/>
<line x1="121.95" y1="591" x2="121.95" y2="615" stroke="#9a7a34" stroke-width="1"/>
<ellipse cx="111.3" cy="603.0" rx="2.6" ry="9.88" fill="#3a2a12"/>
<rect x="79.4" y="713.5" width="32.5" height="21.6" rx="1.5" fill="url(#brass)"/>
<line x1="95.65" y1="714.5" x2="95.65" y2="734.1" stroke="#9a7a34" stroke-width="1"/>
<ellipse cx="81.9" cy="724.3" rx="2.6" ry="8.208" fill="#3a2a12"/>
<rect x="110.4" y="733.6" width="26.3" height="24.7" rx="1.5" fill="url(#brass)"/>
<line x1="123.55000000000001" y1="734.6" x2="123.55000000000001" y2="757.3000000000001" stroke="#9a7a34" stroke-width="1"/>
<ellipse cx="112.9" cy="745.95" rx="2.6" ry="9.386" fill="#3a2a12"/>
<rect x="167" y="576" width="62.6" height="190" rx="8" fill="url(#gasketg)" stroke="#a8a8a8" stroke-width="1"/>
<path d="M226,582 Q229.6,584 229.6,592 L229.6,758 Q229.6,765 224,766" fill="none" stroke="#555" stroke-width="1.6"/>
<rect x="184.8" y="633.3" width="21.5" height="64.4" fill="#ffffff" stroke="#555" stroke-width="1.6"/>
<ellipse cx="174" cy="599.3" rx="2.8" ry="4.8" fill="#fdfdfd" stroke="#6a6a6a" stroke-width="1.2"/>
<ellipse cx="218.8" cy="603" rx="2.8" ry="4.8" fill="#fdfdfd" stroke="#6a6a6a" stroke-width="1.2"/>
<ellipse cx="174" cy="717.4" rx="2.8" ry="4.8" fill="#fdfdfd" stroke="#6a6a6a" stroke-width="1.2"/>
<ellipse cx="218.8" cy="735.2" rx="2.8" ry="4.8" fill="#fdfdfd" stroke="#6a6a6a" stroke-width="1.2"/>
<rect x="224" y="631.5" width="25.2" height="62.5" fill="#353535"/>
<rect x="260" y="617" width="37.5" height="89.6" fill="url(#memb)"/>
<rect x="303.2" y="630.3" width="27.9" height="59.4" fill="#363636"/>
<rect x="379.2" y="543.2" width="14.5" height="32" fill="url(#tabg)"/>
<path d="M444,581.5 L462,581.5 Q469,581.5 469,590 L469,738 Q469,743.8 462,743.8 L446,743.8 Z" fill="#2e2e2e"/>
<path d="M444,581.5 L462,581.5 Q469,581.5 469,590 L447,590 Z" fill="#4a4a4a"/>
<rect x="358" y="574.9" width="89.8" height="168.9" rx="10" fill="url(#collg)"/>
<text transform="translate(465.5,712) rotate(-90)" font-size="15.5" font-weight="bold" fill="#d45a5a" textLength="100" lengthAdjust="spacingAndGlyphs">Anode  side</text>
<circle cx="368.1" cy="595.5" r="3.8" fill="#3a3a3a"/>
<circle cx="384.5" cy="600" r="3.8" fill="#3a3a3a"/>
<circle cx="432" cy="597.3" r="3.8" fill="#3a3a3a"/>
<circle cx="367.3" cy="702.9" r="3.8" fill="#3a3a3a"/>
<circle cx="381.8" cy="722.7" r="3.8" fill="#3a3a3a"/>
<circle cx="430.6" cy="718.7" r="3.8" fill="#3a3a3a"/>
<g fill="#4a4a4a" stroke="#222" stroke-width="1.4">
<rect x="384" y="631.0" width="29" height="6.5" rx="3.2"/>
<rect x="384" y="641.4" width="29" height="6.5" rx="3.2"/>
<rect x="384" y="651.8" width="29" height="6.5" rx="3.2"/>
<rect x="384" y="662.2" width="29" height="6.5" rx="3.2"/>
<rect x="384" y="672.6" width="29" height="6.5" rx="3.2"/>
</g>
<path d="M324.5,574.9 L389,574.9 Q397.7,574.9 397.7,584 L397.7,749 L322,749 Q314.5,749 314.5,740 L314.5,585 Q314.5,574.9 324.5,574.9 Z" fill="#ffffff" fill-opacity="0.1" stroke="#c0c0c0" stroke-width="1"/>
<line x1="397.7" y1="580" x2="397.7" y2="749" stroke="#e8e8e8" stroke-width="1.2"/>
<rect x="338.3" y="629" width="23.7" height="56.7" fill="#ffffff" stroke="#666" stroke-width="1.2"/>
<ellipse cx="325" cy="596" rx="2.8" ry="4.8" fill="#fdfdfd" stroke="#7a7a7a" stroke-width="1.2"/>
<ellipse cx="324.3" cy="706.8" rx="2.8" ry="4.8" fill="#fdfdfd" stroke="#7a7a7a" stroke-width="1.2"/>
<rect x="303.2" y="630.3" width="27.9" height="59.4" fill="#363636"/>
<path d="M53.6,634.8 C44,626 34,615 31,598 L36.7,598 L25.3,585.4 L15,598 L22,598 C24,616 38,630 53.6,634.8 Z" fill="url(#garrow)"/>
<path d="M473.8,635.2 C490,625 498,612 498.5,598 L491.6,598 L503,585.3 L514,598 L507,598 C506,615 494,630 473.8,635.2 Z" fill="url(#rarrow)"/>
<g stroke="#111" stroke-width="1.6" fill="#111">
<line x1="119.2" y1="531.9" x2="119.2" y2="578"/>
<circle cx="119.2" cy="531.9" r="2.3" stroke="none"/>
<circle cx="119.2" cy="578" r="2.3" stroke="none"/>
<line x1="195" y1="562.7" x2="195" y2="583"/>
<circle cx="195" cy="562.7" r="2.3" stroke="none"/>
<line x1="347" y1="563" x2="347" y2="582.8"/>
<circle cx="347" cy="563" r="2.3" stroke="none"/>
<line x1="418.2" y1="531.6" x2="418.2" y2="578"/>
<circle cx="418.2" cy="531.6" r="2.3" stroke="none"/>
<circle cx="418.2" cy="578" r="2.3" stroke="none"/>
<line x1="236.6" y1="678" x2="236.6" y2="759.6"/>
<circle cx="236.6" cy="759.6" r="2.3" stroke="none"/>
<line x1="276.6" y1="676" x2="276.6" y2="819.3"/>
<circle cx="276.6" cy="676" r="2.3" stroke="none"/>
<circle cx="276.6" cy="819.3" r="2.3" stroke="none"/>
</g>
<g stroke="#c8262c" stroke-width="1.6" fill="#c8262c"><polyline points="316.5,677.7 316.5,775.6 346.7,775.6" fill="none"/><circle cx="316.5" cy="677.7" r="2.3" stroke="none"/><circle cx="346.7" cy="775.6" r="2.3" stroke="none"/></g>
<text x="40.6" y="522.0" font-size="19.3" fill="#111" textLength="157.2" lengthAdjust="spacingAndGlyphs">Current  collector</text>
<text x="160.0" y="552.3" font-size="20.6" fill="#111" textLength="68.9" lengthAdjust="spacingAndGlyphs">Gasket</text>
<text x="337.6" y="522.6" font-size="19.3" fill="#111" textLength="159.6" lengthAdjust="spacingAndGlyphs">Current  collector</text>
<text x="311.5" y="554" font-size="20.6" fill="#111" textLength="69.3" lengthAdjust="spacingAndGlyphs">Gasket</text>
<text x="7.9" y="576.5" font-size="31" fill="#111">H<tspan font-size="20" dx="1.6" dy="2.3">2</tspan></text>
<text x="484.6" y="576.3" font-size="30.6" fill="#111">O<tspan font-size="19.5" dx="1.8" dy="2.2">2</tspan></text>
<text x="171.6" y="784.3" font-size="21" fill="#111" textLength="81.8" lengthAdjust="spacingAndGlyphs">Cathode</text>
<text x="176.6" y="809.4" font-size="21" fill="#111" textLength="73" lengthAdjust="spacingAndGlyphs">(MoNi<tspan font-size="15">4</tspan>)</text>
<text x="143.4" y="838.4" font-size="21" fill="#111" textLength="267.6" lengthAdjust="spacingAndGlyphs">Anion  exchange  membrane</text>
<text x="358.5" y="784.3" font-size="21" fill="#c8262c" textLength="63" lengthAdjust="spacingAndGlyphs">Anode</text>
<text x="304.2" y="809.4" font-size="21" fill="#c8262c" textLength="171.5" lengthAdjust="spacingAndGlyphs">(Fe-Ni<tspan font-size="15">2</tspan>P/NiMoO<tspan font-size="15">4</tspan>)</text>
</svg>
</body></html>
